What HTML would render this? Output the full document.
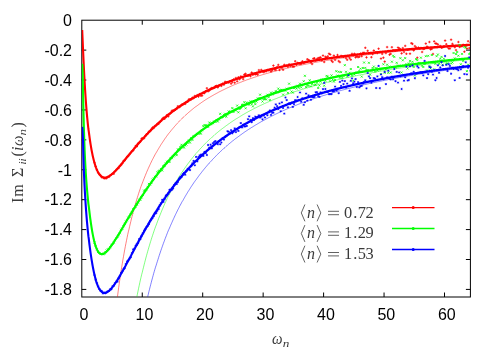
<!DOCTYPE html>
<html><head><meta charset="utf-8"><title>plot</title>
<style>html,body{margin:0;padding:0;background:#fff}svg{display:block;will-change:transform}</style></head>
<body><svg width="502" height="352" viewBox="0 0 502 352">
<rect width="502" height="352" fill="#fff"/>
<clipPath id="c"><rect x="81.8" y="20.2" width="388.2" height="276.5"/></clipPath>
<rect x="81.8" y="20.2" width="388.6" height="276.8" fill="none" stroke="#000" stroke-width="1"/>
<path d="M142.25 297.0v-4.5M142.25 20.2v4.5M202.70 297.0v-4.5M202.70 20.2v4.5M263.15 297.0v-4.5M263.15 20.2v4.5M323.60 297.0v-4.5M323.60 20.2v4.5M384.05 297.0v-4.5M384.05 20.2v4.5M444.50 297.0v-4.5M444.50 20.2v4.5M81.8 50.11h4.5M470.4 50.11h-4.5M81.8 80.02h4.5M470.4 80.02h-4.5M81.8 109.94h4.5M470.4 109.94h-4.5M81.8 139.85h4.5M470.4 139.85h-4.5M81.8 169.76h4.5M470.4 169.76h-4.5M81.8 199.67h4.5M470.4 199.67h-4.5M81.8 229.58h4.5M470.4 229.58h-4.5M81.8 259.50h4.5M470.4 259.50h-4.5M81.8 289.41h4.5M470.4 289.41h-4.5" stroke="#000" stroke-width="1" fill="none"/>
<g clip-path="url(#c)">
<path d="M93.3 162.7h2.4M94.5 161.5v2.4M94.5 166.6h2.4M95.7 165.4v2.4M95.7 169.8h2.4M96.9 168.6v2.4M96.9 172.7h2.4M98.1 171.5v2.4M98.1 174.2h2.4M99.3 173.0v2.4M99.3 175.3h2.4M100.5 174.1v2.4M100.5 177.3h2.4M101.7 176.1v2.4M101.8 177.5h2.4M103.0 176.3v2.4M103.0 178.5h2.4M104.2 177.3v2.4M104.2 178.2h2.4M105.4 177.0v2.4M105.4 178.3h2.4M106.6 177.1v2.4M106.6 177.0h2.4M107.8 175.8v2.4M107.8 176.9h2.4M109.0 175.7v2.4M109.0 175.3h2.4M110.2 174.1v2.4M110.2 174.5h2.4M111.4 173.3v2.4M111.4 173.6h2.4M112.6 172.4v2.4M112.6 173.8h2.4M113.8 172.6v2.4M113.8 171.5h2.4M115.0 170.3v2.4M115.1 170.0h2.4M116.3 168.8v2.4M116.3 168.6h2.4M117.5 167.4v2.4M117.5 168.1h2.4M118.7 166.9v2.4M118.7 166.1h2.4M119.9 164.9v2.4M119.9 165.0h2.4M121.1 163.8v2.4M121.1 163.5h2.4M122.3 162.3v2.4M122.3 160.9h2.4M123.5 159.7v2.4M123.5 160.5h2.4M124.7 159.3v2.4M124.7 158.6h2.4M125.9 157.4v2.4M125.9 156.6h2.4M127.1 155.4v2.4M127.1 156.0h2.4M128.3 154.8v2.4M128.4 154.2h2.4M129.6 153.0v2.4M129.6 152.6h2.4M130.8 151.4v2.4M130.8 151.2h2.4M132.0 150.0v2.4M132.0 150.5h2.4M133.2 149.3v2.4M133.2 148.3h2.4M134.4 147.1v2.4M134.4 146.0h2.4M135.6 144.8v2.4M135.6 146.5h2.4M136.8 145.3v2.4M136.8 143.5h2.4M138.0 142.3v2.4M138.0 142.6h2.4M139.2 141.4v2.4M139.2 141.7h2.4M140.4 140.5v2.4M140.4 138.6h2.4M141.6 137.4v2.4M141.7 138.1h2.4M142.9 136.9v2.4M142.9 138.2h2.4M144.1 137.0v2.4M144.1 136.0h2.4M145.3 134.8v2.4M145.3 134.3h2.4M146.5 133.1v2.4M146.5 133.6h2.4M147.7 132.4v2.4M147.7 131.7h2.4M148.9 130.5v2.4M148.9 131.0h2.4M150.1 129.8v2.4M150.1 129.3h2.4M151.3 128.1v2.4M151.3 127.5h2.4M152.5 126.3v2.4M152.5 128.0h2.4M153.7 126.8v2.4M153.7 126.1h2.4M154.9 124.9v2.4M155.0 125.5h2.4M156.2 124.3v2.4M156.2 123.9h2.4M157.4 122.7v2.4M157.4 123.9h2.4M158.6 122.7v2.4M158.6 122.3h2.4M159.8 121.1v2.4M159.8 121.0h2.4M161.0 119.8v2.4M161.0 119.0h2.4M162.2 117.8v2.4M162.2 117.7h2.4M163.4 116.5v2.4M163.4 118.8h2.4M164.6 117.6v2.4M164.6 117.4h2.4M165.8 116.2v2.4M165.8 115.2h2.4M167.0 114.0v2.4M167.0 116.5h2.4M168.2 115.3v2.4M168.3 114.2h2.4M169.5 113.0v2.4M169.5 113.0h2.4M170.7 111.8v2.4M170.7 110.8h2.4M171.9 109.6v2.4M171.9 110.4h2.4M173.1 109.2v2.4M173.1 110.5h2.4M174.3 109.3v2.4M174.3 109.7h2.4M175.5 108.5v2.4M175.5 108.7h2.4M176.7 107.5v2.4M176.7 106.2h2.4M177.9 105.0v2.4M177.9 107.2h2.4M179.1 106.0v2.4M179.1 106.3h2.4M180.3 105.1v2.4M180.3 104.8h2.4M181.5 103.6v2.4M181.6 104.5h2.4M182.8 103.3v2.4M182.8 103.8h2.4M184.0 102.6v2.4M184.0 103.9h2.4M185.2 102.7v2.4M185.2 102.1h2.4M186.4 100.9v2.4M186.4 101.8h2.4M187.6 100.6v2.4M187.6 99.4h2.4M188.8 98.2v2.4M188.8 99.2h2.4M190.0 98.0v2.4M190.0 99.2h2.4M191.2 98.0v2.4M191.2 97.7h2.4M192.4 96.5v2.4M192.4 98.1h2.4M193.6 96.9v2.4M193.6 96.0h2.4M194.8 94.8v2.4M194.9 96.4h2.4M196.1 95.2v2.4M196.1 95.1h2.4M197.3 93.9v2.4M197.3 96.6h2.4M198.5 95.4v2.4M198.5 94.1h2.4M199.7 92.9v2.4M199.7 95.8h2.4M200.9 94.6v2.4M200.9 95.6h2.4M202.1 94.4v2.4M202.1 93.0h2.4M203.3 91.8v2.4M203.3 93.1h2.4M204.5 91.9v2.4M204.5 91.3h2.4M205.7 90.1v2.4M205.7 88.2h2.4M206.9 87.0v2.4M206.9 91.3h2.4M208.1 90.1v2.4M208.1 90.5h2.4M209.3 89.3v2.4M209.4 88.9h2.4M210.6 87.7v2.4M210.6 88.0h2.4M211.8 86.8v2.4M211.8 88.3h2.4M213.0 87.1v2.4M213.0 87.8h2.4M214.2 86.6v2.4M214.2 86.2h2.4M215.4 85.0v2.4M215.4 85.9h2.4M216.6 84.7v2.4M216.6 87.4h2.4M217.8 86.2v2.4M217.8 85.6h2.4M219.0 84.4v2.4M219.0 85.0h2.4M220.2 83.8v2.4M220.2 85.9h2.4M221.4 84.7v2.4M221.4 83.7h2.4M222.6 82.5v2.4M222.7 84.7h2.4M223.9 83.5v2.4M223.9 81.8h2.4M225.1 80.6v2.4M225.1 82.4h2.4M226.3 81.2v2.4M226.3 82.1h2.4M227.5 80.9v2.4M227.5 82.6h2.4M228.7 81.4v2.4M228.7 81.5h2.4M229.9 80.3v2.4M229.9 83.7h2.4M231.1 82.5v2.4M231.1 82.1h2.4M232.3 80.9v2.4M232.3 79.5h2.4M233.5 78.3v2.4M233.5 82.7h2.4M234.7 81.5v2.4M234.7 78.0h2.4M235.9 76.8v2.4M236.0 81.3h2.4M237.2 80.1v2.4M237.2 77.3h2.4M238.4 76.1v2.4M238.4 79.2h2.4M239.6 78.0v2.4M239.6 76.4h2.4M240.8 75.2v2.4M240.8 77.0h2.4M242.0 75.8v2.4M242.0 79.1h2.4M243.2 77.9v2.4M243.2 74.5h2.4M244.4 73.3v2.4M244.4 73.8h2.4M245.6 72.6v2.4M245.6 75.8h2.4M246.8 74.6v2.4M246.8 75.8h2.4M248.0 74.6v2.4M248.0 75.2h2.4M249.2 74.0v2.4M249.3 76.2h2.4M250.5 75.0v2.4M250.5 72.5h2.4M251.7 71.3v2.4M251.7 74.8h2.4M252.9 73.6v2.4M252.9 73.6h2.4M254.1 72.4v2.4M254.1 74.5h2.4M255.3 73.3v2.4M255.3 73.9h2.4M256.5 72.7v2.4M256.5 74.7h2.4M257.7 73.5v2.4M257.7 70.1h2.4M258.9 68.9v2.4M258.9 72.2h2.4M260.1 71.0v2.4M260.1 69.9h2.4M261.3 68.7v2.4M261.3 71.3h2.4M262.5 70.1v2.4M262.6 72.2h2.4M263.8 71.0v2.4M263.8 71.2h2.4M265.0 70.0v2.4M265.0 71.3h2.4M266.2 70.1v2.4M266.2 70.0h2.4M267.4 68.8v2.4M267.4 70.4h2.4M268.6 69.2v2.4M268.6 70.0h2.4M269.8 68.8v2.4M269.8 71.6h2.4M271.0 70.4v2.4M271.0 70.3h2.4M272.2 69.1v2.4M272.2 65.6h2.4M273.4 64.4v2.4M273.4 69.5h2.4M274.6 68.3v2.4M274.6 70.0h2.4M275.8 68.8v2.4M275.9 67.1h2.4M277.1 65.9v2.4M277.1 64.9h2.4M278.3 63.7v2.4M278.3 70.0h2.4M279.5 68.8v2.4M279.5 67.4h2.4M280.7 66.2v2.4M280.7 67.9h2.4M281.9 66.7v2.4M281.9 69.8h2.4M283.1 68.6v2.4M283.1 64.8h2.4M284.3 63.6v2.4M284.3 66.0h2.4M285.5 64.8v2.4M285.5 65.5h2.4M286.7 64.3v2.4M286.7 66.9h2.4M287.9 65.7v2.4M287.9 64.3h2.4M289.1 63.1v2.4M289.2 66.0h2.4M290.4 64.8v2.4M290.4 65.0h2.4M291.6 63.8v2.4M291.6 66.7h2.4M292.8 65.5v2.4M292.8 66.7h2.4M294.0 65.5v2.4M294.0 61.2h2.4M295.2 60.0v2.4M295.2 64.8h2.4M296.4 63.6v2.4M296.4 62.9h2.4M297.6 61.7v2.4M297.6 63.4h2.4M298.8 62.2v2.4M298.8 64.0h2.4M300.0 62.8v2.4M300.0 63.9h2.4M301.2 62.7v2.4M301.2 61.3h2.4M302.4 60.1v2.4M302.5 63.0h2.4M303.7 61.8v2.4M303.7 62.5h2.4M304.9 61.3v2.4M304.9 61.9h2.4M306.1 60.7v2.4M306.1 59.2h2.4M307.3 58.0v2.4M307.3 60.1h2.4M308.5 58.9v2.4M308.5 60.5h2.4M309.7 59.3v2.4M309.7 62.4h2.4M310.9 61.2v2.4M310.9 64.0h2.4M312.1 62.8v2.4M312.1 58.6h2.4M313.3 57.4v2.4M313.3 58.3h2.4M314.5 57.1v2.4M314.5 60.7h2.4M315.7 59.5v2.4M315.8 58.9h2.4M317.0 57.7v2.4M317.0 58.1h2.4M318.2 56.9v2.4M318.2 57.8h2.4M319.4 56.6v2.4M319.4 57.4h2.4M320.6 56.2v2.4M320.6 60.4h2.4M321.8 59.2v2.4M321.8 55.6h2.4M323.0 54.4v2.4M323.0 62.0h2.4M324.2 60.8v2.4M324.2 56.8h2.4M325.4 55.6v2.4M325.4 57.5h2.4M326.6 56.3v2.4M326.6 56.3h2.4M327.8 55.1v2.4M327.8 53.7h2.4M329.0 52.5v2.4M329.0 54.5h2.4M330.2 53.3v2.4M330.3 60.7h2.4M331.5 59.5v2.4M331.5 61.9h2.4M332.7 60.7v2.4M332.7 55.6h2.4M333.9 54.4v2.4M333.9 59.9h2.4M335.1 58.7v2.4M335.1 57.3h2.4M336.3 56.1v2.4M336.3 55.0h2.4M337.5 53.8v2.4M337.5 61.1h2.4M338.7 59.9v2.4M338.7 62.1h2.4M339.9 60.9v2.4M339.9 55.9h2.4M341.1 54.7v2.4M341.1 56.3h2.4M342.3 55.1v2.4M342.3 56.9h2.4M343.5 55.7v2.4M343.6 56.0h2.4M344.8 54.8v2.4M344.8 58.2h2.4M346.0 57.0v2.4M346.0 59.8h2.4M347.2 58.6v2.4M347.2 56.1h2.4M348.4 54.9v2.4M348.4 58.1h2.4M349.6 56.9v2.4M349.6 59.7h2.4M350.8 58.5v2.4M350.8 53.8h2.4M352.0 52.6v2.4M352.0 55.2h2.4M353.2 54.0v2.4M353.2 53.8h2.4M354.4 52.6v2.4M354.4 57.4h2.4M355.6 56.2v2.4M355.6 56.4h2.4M356.8 55.2v2.4M356.9 57.2h2.4M358.1 56.0v2.4M358.1 56.8h2.4M359.3 55.6v2.4M359.3 53.6h2.4M360.5 52.4v2.4M360.5 56.2h2.4M361.7 55.0v2.4M361.7 52.9h2.4M362.9 51.7v2.4M362.9 52.8h2.4M364.1 51.6v2.4M364.1 47.8h2.4M365.3 46.6v2.4M365.3 57.4h2.4M366.5 56.2v2.4M366.5 50.8h2.4M367.7 49.6v2.4M367.7 53.4h2.4M368.9 52.2v2.4M368.9 53.1h2.4M370.1 51.9v2.4M370.2 57.2h2.4M371.4 56.0v2.4M371.4 54.1h2.4M372.6 52.9v2.4M372.6 50.5h2.4M373.8 49.3v2.4M373.8 52.8h2.4M375.0 51.6v2.4M375.0 52.2h2.4M376.2 51.0v2.4M376.2 53.1h2.4M377.4 51.9v2.4M377.4 48.7h2.4M378.6 47.5v2.4M378.6 52.1h2.4M379.8 50.9v2.4M379.8 58.6h2.4M381.0 57.4v2.4M381.0 53.9h2.4M382.2 52.7v2.4M382.2 57.7h2.4M383.4 56.5v2.4M383.5 61.6h2.4M384.7 60.4v2.4M384.7 53.1h2.4M385.9 51.9v2.4M385.9 47.1h2.4M387.1 45.9v2.4M387.1 51.0h2.4M388.3 49.8v2.4M388.3 54.7h2.4M389.5 53.5v2.4M389.5 53.9h2.4M390.7 52.7v2.4M390.7 47.2h2.4M391.9 46.0v2.4M391.9 50.2h2.4M393.1 49.0v2.4M393.1 50.4h2.4M394.3 49.2v2.4M394.3 50.6h2.4M395.5 49.4v2.4M395.5 50.2h2.4M396.7 49.0v2.4M396.8 47.6h2.4M398.0 46.4v2.4M398.0 48.3h2.4M399.2 47.1v2.4M399.2 49.3h2.4M400.4 48.1v2.4M400.4 53.4h2.4M401.6 52.2v2.4M401.6 48.1h2.4M402.8 46.9v2.4M402.8 52.0h2.4M404.0 50.8v2.4M404.0 45.9h2.4M405.2 44.7v2.4M405.2 53.8h2.4M406.4 52.6v2.4M406.4 49.8h2.4M407.6 48.6v2.4M407.6 49.3h2.4M408.8 48.1v2.4M408.8 53.7h2.4M410.0 52.5v2.4M410.1 43.2h2.4M411.3 42.0v2.4M411.3 43.9h2.4M412.5 42.7v2.4M412.5 50.5h2.4M413.7 49.3v2.4M413.7 46.1h2.4M414.9 44.9v2.4M414.9 47.3h2.4M416.1 46.1v2.4M416.1 57.7h2.4M417.3 56.5v2.4M417.3 47.6h2.4M418.5 46.4v2.4M418.5 48.6h2.4M419.7 47.4v2.4M419.7 48.0h2.4M420.9 46.8v2.4M420.9 52.0h2.4M422.1 50.8v2.4M422.1 49.0h2.4M423.3 47.8v2.4M423.4 48.6h2.4M424.6 47.4v2.4M424.6 43.6h2.4M425.8 42.4v2.4M425.8 46.6h2.4M427.0 45.4v2.4M427.0 47.7h2.4M428.2 46.5v2.4M428.2 42.0h2.4M429.4 40.8v2.4M429.4 49.5h2.4M430.6 48.3v2.4M430.6 48.9h2.4M431.8 47.7v2.4M431.8 54.0h2.4M433.0 52.8v2.4M433.0 41.4h2.4M434.2 40.2v2.4M434.2 43.5h2.4M435.4 42.3v2.4M435.4 43.6h2.4M436.6 42.4v2.4M436.7 44.4h2.4M437.9 43.2v2.4M437.9 46.5h2.4M439.1 45.3v2.4M439.1 46.0h2.4M440.3 44.8v2.4M440.3 47.7h2.4M441.5 46.5v2.4M441.5 47.4h2.4M442.7 46.2v2.4M442.7 46.3h2.4M443.9 45.1v2.4M443.9 40.6h2.4M445.1 39.4v2.4M445.1 44.2h2.4M446.3 43.0v2.4M446.3 46.5h2.4M447.5 45.3v2.4M447.5 48.5h2.4M448.7 47.3v2.4M448.7 48.6h2.4M449.9 47.4v2.4M449.9 39.7h2.4M451.1 38.5v2.4M451.2 43.9h2.4M452.4 42.7v2.4M452.4 45.6h2.4M453.6 44.4v2.4M453.6 47.2h2.4M454.8 46.0v2.4M454.8 50.1h2.4M456.0 48.9v2.4M456.0 45.9h2.4M457.2 44.7v2.4M457.2 42.0h2.4M458.4 40.8v2.4M458.4 47.0h2.4M459.6 45.8v2.4M459.6 46.3h2.4M460.8 45.1v2.4M460.8 46.2h2.4M462.0 45.0v2.4M462.0 44.8h2.4M463.2 43.6v2.4M463.2 51.7h2.4M464.4 50.5v2.4M464.5 46.0h2.4M465.7 44.8v2.4M465.7 48.5h2.4M466.9 47.3v2.4M466.9 41.2h2.4M468.1 40.0v2.4M468.1 48.1h2.4M469.3 46.9v2.4M469.3 42.3h2.4M470.5 41.1v2.4" stroke="#ff0000" stroke-width="0.8" fill="none"/>
<polyline points="82.2,30.0 82.4,34.7 82.7,41.8 83.0,48.7 83.3,55.4 83.6,61.9 83.9,68.1 84.2,74.0 84.5,79.6 84.8,84.9 85.1,89.9 85.4,94.6 85.7,99.0 86.0,103.2 86.3,107.1 86.6,110.8 86.9,114.3 87.2,117.6 87.5,120.7 87.8,123.6 88.1,126.4 88.4,129.0 88.8,131.6 89.1,134.0 89.4,136.2 89.7,138.4 90.0,140.5 90.3,142.5 90.6,144.4 90.9,146.2 91.2,148.0 91.5,149.7 91.8,151.3 92.1,152.8 92.4,154.3 92.7,155.7 93.0,157.0 93.3,158.3 93.6,159.5 93.9,160.7 94.2,161.8 94.5,162.9 94.8,163.9 95.1,164.9 95.4,165.8 95.7,166.7 96.0,167.6 96.3,168.4 96.6,169.1 96.9,169.8 97.2,170.5 97.5,171.1 97.8,171.7 98.1,172.3 98.4,172.8 98.7,173.3 99.0,173.8 99.3,174.2 99.6,174.6 99.9,175.0 100.2,175.3 100.5,175.7 100.8,175.9 101.1,176.2 101.4,176.4 101.7,176.6 102.1,176.8 102.4,177.0 102.7,177.1 103.0,177.3 103.3,177.4 103.6,177.5 103.9,177.5 104.2,177.6 104.5,177.6 104.8,177.6 105.1,177.6 105.4,177.6 105.7,177.5 106.0,177.5 106.3,177.4 106.6,177.3 106.9,177.2 107.2,177.1 107.5,177.0 107.8,176.9 108.1,176.7 108.4,176.6 108.7,176.4 109.0,176.3 109.3,176.1 109.6,175.9 109.9,175.7 110.2,175.5 110.5,175.3 110.8,175.0 111.1,174.8 111.4,174.6 111.7,174.3 112.0,174.1 112.3,173.8 112.6,173.5 112.9,173.3 113.2,173.0 113.5,172.7 113.8,172.4 114.1,172.1 114.4,171.8 114.7,171.5 115.0,171.2 115.3,170.9 115.7,170.6 116.0,170.3 116.3,169.9 116.6,169.6 116.9,169.3 117.2,169.0 117.5,168.6 117.8,168.3 118.1,168.0 118.4,167.6 118.7,167.3 119.0,166.9 119.3,166.6 119.6,166.2 119.9,165.9 120.2,165.5 120.5,165.2 120.8,164.8 121.1,164.4 121.4,164.1 121.7,163.7 122.0,163.4 122.3,163.0 122.6,162.6 122.9,162.3 123.2,161.9 123.5,161.5 123.8,161.2 124.1,160.8 124.4,160.4 124.7,160.1 125.0,159.7 125.3,159.3 125.6,158.9 125.9,158.6 126.2,158.2 126.5,157.8 126.8,157.5 127.1,157.1 127.4,156.7 127.7,156.4 128.0,156.0 128.3,155.6 128.6,155.2 129.0,154.9 129.3,154.5 129.6,154.1 129.9,153.8 130.2,153.4 130.5,153.0 130.8,152.7 131.1,152.3 131.4,151.9 131.7,151.6 132.0,151.2 132.3,150.8 132.6,150.5 132.9,150.1 133.2,149.7 133.5,149.4 133.8,149.0 134.1,148.7 134.4,148.3 134.7,147.9 135.0,147.6 135.3,147.2 135.6,146.9 135.9,146.5 136.2,146.2 136.5,145.8 136.8,145.5 137.1,145.1" stroke="#ff0000" stroke-width="2.1" fill="none" stroke-linejoin="round"/>
<polyline points="136.2,146.2 136.5,145.8 136.8,145.5 137.1,145.1 137.4,144.8 137.7,144.4 138.0,144.1 138.3,143.7 138.6,143.4 138.9,143.0 139.2,142.7 139.5,142.3 139.8,142.0 140.1,141.6 140.4,141.3 140.7,141.0 141.0,140.6 141.3,140.3 141.6,140.0 141.9,139.6 142.2,139.3 142.6,139.0 142.9,138.6 143.2,138.3 143.5,138.0 143.8,137.6 144.1,137.3 144.4,137.0 144.7,136.7 145.0,136.3 145.3,136.0 145.6,135.7 145.9,135.4 146.2,135.0 146.5,134.7 146.8,134.4 147.1,134.1 147.4,133.8 147.7,133.5 148.0,133.1 148.3,132.8 148.6,132.5 148.9,132.2 149.2,131.9 149.5,131.6 149.8,131.3 150.1,131.0 150.4,130.7 150.7,130.4 151.0,130.1 151.3,129.8 151.6,129.5 151.9,129.2 152.2,128.9 152.5,128.6 152.8,128.3 153.1,128.0 153.4,127.7 153.7,127.4 154.0,127.1 154.3,126.9 154.6,126.6 154.9,126.3 155.2,126.0 155.5,125.7 155.9,125.4 156.2,125.1 156.5,124.9 156.8,124.6 157.1,124.3 157.4,124.0 157.7,123.8 158.0,123.5 158.3,123.2 158.6,122.9 158.9,122.7 159.2,122.4 159.5,122.1 159.8,121.9 160.1,121.6 160.4,121.3 160.7,121.1 161.0,120.8 161.3,120.5 161.6,120.3 161.9,120.0 162.2,119.7 162.5,119.5 162.8,119.2 163.1,119.0 163.4,118.7 163.7,118.5 164.0,118.2 164.3,118.0 164.6,117.7 164.9,117.5 165.2,117.2 165.5,117.0 165.8,116.7 166.1,116.5 166.4,116.2 166.7,116.0 167.0,115.7 167.3,115.5" stroke="#ff0000" stroke-width="2.2" fill="none" stroke-linejoin="round"/>
<polyline points="166.4,116.2 166.7,116.0 167.0,115.7 167.3,115.5 167.6,115.2 167.9,115.0 168.2,114.8 168.5,114.5 168.8,114.3 169.2,114.1 169.5,113.8 169.8,113.6 170.1,113.4 170.4,113.1 170.7,112.9 171.0,112.7 171.3,112.4 171.6,112.2 171.9,112.0 172.2,111.7 172.5,111.5 172.8,111.3 173.1,111.1 173.4,110.8 173.7,110.6 174.0,110.4 174.3,110.2 174.6,110.0 174.9,109.7 175.2,109.5 175.5,109.3 175.8,109.1 176.1,108.9 176.4,108.7 176.7,108.5 177.0,108.2 177.3,108.0 177.6,107.8 177.9,107.6 178.2,107.4 178.5,107.2 178.8,107.0 179.1,106.8 179.4,106.6 179.7,106.4 180.0,106.2 180.3,106.0 180.6,105.8 180.9,105.6 181.2,105.4 181.5,105.2 181.8,105.0 182.1,104.8 182.4,104.6 182.8,104.4 183.1,104.2 183.4,104.0 183.7,103.8 184.0,103.6 184.3,103.4 184.6,103.2 184.9,103.0 185.2,102.8 185.5,102.6 185.8,102.4 186.1,102.2 186.4,102.1 186.7,101.9 187.0,101.7 187.3,101.5 187.6,101.3 187.9,101.1 188.2,101.0 188.5,100.8 188.8,100.6 189.1,100.4 189.4,100.2 189.7,100.0 190.0,99.9 190.3,99.7 190.6,99.5 190.9,99.3 191.2,99.2 191.5,99.0 191.8,98.8 192.1,98.6 192.4,98.5 192.7,98.3 193.0,98.1 193.3,97.9 193.6,97.8 193.9,97.6 194.2,97.4 194.5,97.3 194.8,97.1 195.1,96.9 195.4,96.8 195.7,96.6 196.1,96.4 196.4,96.3 196.7,96.1 197.0,95.9 197.3,95.8 197.6,95.6 197.9,95.5 198.2,95.3 198.5,95.1 198.8,95.0 199.1,94.8 199.4,94.7 199.7,94.5 200.0,94.3 200.3,94.2 200.6,94.0 200.9,93.9 201.2,93.7 201.5,93.6 201.8,93.4 202.1,93.3 202.4,93.1 202.7,93.0 203.0,92.8 203.3,92.7 203.6,92.5 203.9,92.4 204.2,92.2 204.5,92.1 204.8,91.9 205.1,91.8 205.4,91.6 205.7,91.5 206.0,91.3 206.3,91.2 206.6,91.0 206.9,90.9 207.2,90.7 207.5,90.6 207.8,90.5 208.1,90.3 208.4,90.2 208.7,90.0 209.0,89.9 209.3,89.8 209.7,89.6 210.0,89.5 210.3,89.3 210.6,89.2 210.9,89.1 211.2,88.9 211.5,88.8 211.8,88.7 212.1,88.5 212.4,88.4 212.7,88.2 213.0,88.1 213.3,88.0 213.6,87.8 213.9,87.7 214.2,87.6 214.5,87.4 214.8,87.3 215.1,87.2 215.4,87.1 215.7,86.9 216.0,86.8 216.3,86.7 216.6,86.5 216.9,86.4 217.2,86.3 217.5,86.2 217.8,86.0 218.1,85.9 218.4,85.8 218.7,85.7 219.0,85.5 219.3,85.4 219.6,85.3 219.9,85.2 220.2,85.0 220.5,84.9 220.8,84.8 221.1,84.7 221.4,84.5 221.7,84.4 222.0,84.3 222.3,84.2 222.6,84.1 223.0,83.9 223.3,83.8 223.6,83.7 223.9,83.6 224.2,83.5 224.5,83.4 224.8,83.2 225.1,83.1 225.4,83.0 225.7,82.9 226.0,82.8 226.3,82.7 226.6,82.5 226.9,82.4 227.2,82.3 227.5,82.2 227.8,82.1 228.1,82.0 228.4,81.9 228.7,81.8 229.0,81.6 229.3,81.5 229.6,81.4 229.9,81.3 230.2,81.2 230.5,81.1 230.8,81.0 231.1,80.9 231.4,80.8 231.7,80.7 232.0,80.6 232.3,80.4 232.6,80.3 232.9,80.2 233.2,80.1 233.5,80.0 233.8,79.9 234.1,79.8 234.4,79.7 234.7,79.6 235.0,79.5 235.3,79.4 235.6,79.3 235.9,79.2 236.2,79.1 236.6,79.0 236.9,78.9 237.2,78.8 237.5,78.7 237.8,78.6 238.1,78.5 238.4,78.4 238.7,78.3 239.0,78.2 239.3,78.1 239.6,78.0 239.9,77.9 240.2,77.8 240.5,77.7 240.8,77.6 241.1,77.5 241.4,77.4 241.7,77.3 242.0,77.2 242.3,77.1 242.6,77.0 242.9,76.9 243.2,76.8 243.5,76.7 243.8,76.6 244.1,76.5 244.4,76.4 244.7,76.3 245.0,76.2 245.3,76.1 245.6,76.1 245.9,76.0 246.2,75.9 246.5,75.8 246.8,75.7 247.1,75.6 247.4,75.5 247.7,75.4 248.0,75.3 248.3,75.2 248.6,75.1 248.9,75.0 249.2,75.0 249.5,74.9 249.9,74.8 250.2,74.7 250.5,74.6 250.8,74.5 251.1,74.4 251.4,74.3 251.7,74.3 252.0,74.2 252.3,74.1 252.6,74.0 252.9,73.9 253.2,73.8 253.5,73.7 253.8,73.6 254.1,73.6 254.4,73.5 254.7,73.4 255.0,73.3 255.3,73.2 255.6,73.1 255.9,73.1 256.2,73.0 256.5,72.9 256.8,72.8 257.1,72.7 257.4,72.6 257.7,72.6 258.0,72.5 258.3,72.4 258.6,72.3 258.9,72.2 259.2,72.2 259.5,72.1 259.8,72.0 260.1,71.9 260.4,71.8 260.7,71.7 261.0,71.7 261.3,71.6 261.6,71.5 261.9,71.4 262.2,71.4 262.5,71.3 262.8,71.2 263.2,71.1 263.5,71.0 263.8,71.0 264.1,70.9 264.4,70.8 264.7,70.7 265.0,70.7 265.3,70.6 265.6,70.5 265.9,70.4 266.2,70.4 266.5,70.3 266.8,70.2 267.1,70.1 267.4,70.1 267.7,70.0 268.0,69.9 268.3,69.8 268.6,69.8 268.9,69.7 269.2,69.6 269.5,69.5 269.8,69.5 270.1,69.4 270.4,69.3 270.7,69.2 271.0,69.2 271.3,69.1 271.6,69.0 271.9,69.0 272.2,68.9 272.5,68.8 272.8,68.7 273.1,68.7 273.4,68.6 273.7,68.5 274.0,68.5 274.3,68.4 274.6,68.3 274.9,68.2 275.2,68.2 275.5,68.1 275.8,68.0 276.1,68.0 276.4,67.9 276.8,67.8 277.1,67.8 277.4,67.7 277.7,67.6 278.0,67.6 278.3,67.5 278.6,67.4 278.9,67.4 279.2,67.3 279.5,67.2 279.8,67.2 280.1,67.1 280.4,67.0 280.7,67.0 281.0,66.9 281.3,66.8 281.6,66.8 281.9,66.7 282.2,66.6 282.5,66.6 282.8,66.5 283.1,66.4 283.4,66.4 283.7,66.3 284.0,66.2 284.3,66.2 284.6,66.1 284.9,66.0 285.2,66.0 285.5,65.9 285.8,65.9 286.1,65.8 286.4,65.7 286.7,65.7 287.0,65.6 287.3,65.5 287.6,65.5 287.9,65.4 288.2,65.4 288.5,65.3 288.8,65.2 289.1,65.2 289.4,65.1 289.7,65.0 290.1,65.0 290.4,64.9 290.7,64.9 291.0,64.8 291.3,64.7 291.6,64.7 291.9,64.6 292.2,64.6 292.5,64.5 292.8,64.4 293.1,64.4 293.4,64.3 293.7,64.3 294.0,64.2 294.3,64.2 294.6,64.1 294.9,64.0 295.2,64.0 295.5,63.9 295.8,63.9 296.1,63.8 296.4,63.7 296.7,63.7 297.0,63.6 297.3,63.6 297.6,63.5 297.9,63.5 298.2,63.4 298.5,63.3 298.8,63.3 299.1,63.2 299.4,63.2 299.7,63.1 300.0,63.1 300.3,63.0 300.6,63.0 300.9,62.9 301.2,62.8 301.5,62.8 301.8,62.7 302.1,62.7 302.4,62.6 302.7,62.6 303.0,62.5 303.3,62.5 303.7,62.4 304.0,62.3 304.3,62.3 304.6,62.2 304.9,62.2 305.2,62.1 305.5,62.1 305.8,62.0 306.1,62.0 306.4,61.9 306.7,61.9 307.0,61.8 307.3,61.8 307.6,61.7 307.9,61.7 308.2,61.6 308.5,61.6 308.8,61.5 309.1,61.4 309.4,61.4 309.7,61.3 310.0,61.3 310.3,61.2 310.6,61.2 310.9,61.1 311.2,61.1 311.5,61.0 311.8,61.0 312.1,60.9 312.4,60.9 312.7,60.8 313.0,60.8 313.3,60.7 313.6,60.7 313.9,60.6 314.2,60.6 314.5,60.5 314.8,60.5 315.1,60.4 315.4,60.4 315.7,60.3 316.0,60.3 316.3,60.2 316.6,60.2 317.0,60.1 317.3,60.1 317.6,60.0 317.9,60.0 318.2,59.9 318.5,59.9 318.8,59.8 319.1,59.8 319.4,59.8 319.7,59.7 320.0,59.7 320.3,59.6 320.6,59.6 320.9,59.5 321.2,59.5 321.5,59.4 321.8,59.4 322.1,59.3 322.4,59.3 322.7,59.2 323.0,59.2 323.3,59.1 323.6,59.1 323.9,59.0 324.2,59.0 324.5,59.0 324.8,58.9 325.1,58.9 325.4,58.8 325.7,58.8 326.0,58.7 326.3,58.7 326.6,58.6 326.9,58.6 327.2,58.5 327.5,58.5 327.8,58.5 328.1,58.4 328.4,58.4 328.7,58.3 329.0,58.3 329.3,58.2 329.6,58.2 329.9,58.1 330.2,58.1 330.6,58.1 330.9,58.0 331.2,58.0 331.5,57.9 331.8,57.9 332.1,57.8 332.4,57.8 332.7,57.8 333.0,57.7 333.3,57.7 333.6,57.6 333.9,57.6 334.2,57.5 334.5,57.5 334.8,57.5 335.1,57.4 335.4,57.4 335.7,57.3 336.0,57.3 336.3,57.2 336.6,57.2 336.9,57.2 337.2,57.1 337.5,57.1 337.8,57.0 338.1,57.0 338.4,56.9 338.7,56.9 339.0,56.9 339.3,56.8 339.6,56.8 339.9,56.7 340.2,56.7 340.5,56.7 340.8,56.6 341.1,56.6 341.4,56.5 341.7,56.5 342.0,56.5 342.3,56.4 342.6,56.4 342.9,56.3 343.2,56.3 343.5,56.3 343.9,56.2 344.2,56.2 344.5,56.1 344.8,56.1 345.1,56.1 345.4,56.0 345.7,56.0 346.0,55.9 346.3,55.9 346.6,55.9 346.9,55.8 347.2,55.8 347.5,55.7 347.8,55.7 348.1,55.7 348.4,55.6 348.7,55.6 349.0,55.6 349.3,55.5 349.6,55.5 349.9,55.4 350.2,55.4 350.5,55.4 350.8,55.3 351.1,55.3 351.4,55.2 351.7,55.2 352.0,55.2 352.3,55.1 352.6,55.1 352.9,55.1 353.2,55.0 353.5,55.0 353.8,54.9 354.1,54.9 354.4,54.9 354.7,54.8 355.0,54.8 355.3,54.8 355.6,54.7 355.9,54.7 356.2,54.7 356.5,54.6 356.8,54.6 357.1,54.5 357.5,54.5 357.8,54.5 358.1,54.4 358.4,54.4 358.7,54.4 359.0,54.3 359.3,54.3 359.6,54.3 359.9,54.2 360.2,54.2 360.5,54.2 360.8,54.1 361.1,54.1 361.4,54.0 361.7,54.0 362.0,54.0 362.3,53.9 362.6,53.9 362.9,53.9 363.2,53.8 363.5,53.8 363.8,53.8 364.1,53.7 364.4,53.7 364.7,53.7 365.0,53.6 365.3,53.6 365.6,53.6 365.9,53.5 366.2,53.5 366.5,53.5 366.8,53.4 367.1,53.4 367.4,53.4 367.7,53.3 368.0,53.3 368.3,53.3 368.6,53.2 368.9,53.2 369.2,53.2 369.5,53.1 369.8,53.1 370.1,53.1 370.4,53.0 370.8,53.0 371.1,53.0 371.4,52.9 371.7,52.9 372.0,52.9 372.3,52.8 372.6,52.8 372.9,52.8 373.2,52.7 373.5,52.7 373.8,52.7 374.1,52.6 374.4,52.6 374.7,52.6 375.0,52.5 375.3,52.5 375.6,52.5 375.9,52.4 376.2,52.4 376.5,52.4 376.8,52.3 377.1,52.3 377.4,52.3 377.7,52.2 378.0,52.2 378.3,52.2 378.6,52.1 378.9,52.1 379.2,52.1 379.5,52.1 379.8,52.0 380.1,52.0 380.4,52.0 380.7,51.9 381.0,51.9 381.3,51.9 381.6,51.8 381.9,51.8 382.2,51.8 382.5,51.7 382.8,51.7 383.1,51.7 383.4,51.6 383.7,51.6 384.1,51.6 384.4,51.6 384.7,51.5 385.0,51.5 385.3,51.5 385.6,51.4 385.9,51.4 386.2,51.4 386.5,51.3 386.8,51.3 387.1,51.3 387.4,51.3 387.7,51.2 388.0,51.2 388.3,51.2 388.6,51.1 388.9,51.1 389.2,51.1 389.5,51.1 389.8,51.0 390.1,51.0 390.4,51.0 390.7,50.9 391.0,50.9 391.3,50.9 391.6,50.8 391.9,50.8 392.2,50.8 392.5,50.8 392.8,50.7 393.1,50.7 393.4,50.7 393.7,50.6 394.0,50.6 394.3,50.6 394.6,50.6 394.9,50.5 395.2,50.5 395.5,50.5 395.8,50.4 396.1,50.4 396.4,50.4 396.7,50.4 397.0,50.3 397.3,50.3 397.7,50.3 398.0,50.2 398.3,50.2 398.6,50.2 398.9,50.2 399.2,50.1 399.5,50.1 399.8,50.1 400.1,50.1 400.4,50.0 400.7,50.0 401.0,50.0 401.3,49.9 401.6,49.9 401.9,49.9 402.2,49.9 402.5,49.8 402.8,49.8 403.1,49.8 403.4,49.8 403.7,49.7 404.0,49.7 404.3,49.7 404.6,49.6 404.9,49.6 405.2,49.6 405.5,49.6 405.8,49.5 406.1,49.5 406.4,49.5 406.7,49.5 407.0,49.4 407.3,49.4 407.6,49.4 407.9,49.4 408.2,49.3 408.5,49.3 408.8,49.3 409.1,49.3 409.4,49.2 409.7,49.2 410.0,49.2 410.3,49.1 410.6,49.1 411.0,49.1 411.3,49.1 411.6,49.0 411.9,49.0 412.2,49.0 412.5,49.0 412.8,48.9 413.1,48.9 413.4,48.9 413.7,48.9 414.0,48.8 414.3,48.8 414.6,48.8 414.9,48.8 415.2,48.7 415.5,48.7 415.8,48.7 416.1,48.7 416.4,48.6 416.7,48.6 417.0,48.6 417.3,48.6 417.6,48.5 417.9,48.5 418.2,48.5 418.5,48.5 418.8,48.4 419.1,48.4 419.4,48.4 419.7,48.4 420.0,48.3 420.3,48.3 420.6,48.3 420.9,48.3 421.2,48.2 421.5,48.2 421.8,48.2 422.1,48.2 422.4,48.1 422.7,48.1 423.0,48.1 423.3,48.1 423.6,48.0 423.9,48.0 424.2,48.0 424.6,48.0 424.9,48.0 425.2,47.9 425.5,47.9 425.8,47.9 426.1,47.9 426.4,47.8 426.7,47.8 427.0,47.8 427.3,47.8 427.6,47.7 427.9,47.7 428.2,47.7 428.5,47.7 428.8,47.6 429.1,47.6 429.4,47.6 429.7,47.6 430.0,47.6 430.3,47.5 430.6,47.5 430.9,47.5 431.2,47.5 431.5,47.4 431.8,47.4 432.1,47.4 432.4,47.4 432.7,47.3 433.0,47.3 433.3,47.3 433.6,47.3 433.9,47.3 434.2,47.2 434.5,47.2 434.8,47.2 435.1,47.2 435.4,47.1 435.7,47.1 436.0,47.1 436.3,47.1 436.6,47.1 436.9,47.0 437.2,47.0 437.5,47.0 437.9,47.0 438.2,46.9 438.5,46.9 438.8,46.9 439.1,46.9 439.4,46.9 439.7,46.8 440.0,46.8 440.3,46.8 440.6,46.8 440.9,46.7 441.2,46.7 441.5,46.7 441.8,46.7 442.1,46.7 442.4,46.6 442.7,46.6 443.0,46.6 443.3,46.6 443.6,46.5 443.9,46.5 444.2,46.5 444.5,46.5 444.8,46.5 445.1,46.4 445.4,46.4 445.7,46.4 446.0,46.4 446.3,46.4 446.6,46.3 446.9,46.3 447.2,46.3 447.5,46.3 447.8,46.3 448.1,46.2 448.4,46.2 448.7,46.2 449.0,46.2 449.3,46.1 449.6,46.1 449.9,46.1 450.2,46.1 450.5,46.1 450.8,46.0 451.1,46.0 451.5,46.0 451.8,46.0 452.1,46.0 452.4,45.9 452.7,45.9 453.0,45.9 453.3,45.9 453.6,45.9 453.9,45.8 454.2,45.8 454.5,45.8 454.8,45.8 455.1,45.8 455.4,45.7 455.7,45.7 456.0,45.7 456.3,45.7 456.6,45.7 456.9,45.6 457.2,45.6 457.5,45.6 457.8,45.6 458.1,45.6 458.4,45.5 458.7,45.5 459.0,45.5 459.3,45.5 459.6,45.5 459.9,45.4 460.2,45.4 460.5,45.4 460.8,45.4 461.1,45.4 461.4,45.3 461.7,45.3 462.0,45.3 462.3,45.3 462.6,45.3 462.9,45.2 463.2,45.2 463.5,45.2 463.8,45.2 464.1,45.2 464.4,45.1 464.8,45.1 465.1,45.1 465.4,45.1 465.7,45.1 466.0,45.0 466.3,45.0 466.6,45.0 466.9,45.0 467.2,45.0 467.5,44.9 467.8,44.9 468.1,44.9 468.4,44.9 468.7,44.9 469.0,44.9 469.3,44.8 469.6,44.8 469.9,44.8 470.2,44.8 470.5,44.8" stroke="#ff0000" stroke-width="2.3" fill="none" stroke-linejoin="round"/>
<polyline points="99.9,563.6 100.5,546.1 101.1,529.6 101.7,514.2 102.4,499.7 103.0,486.0 103.6,473.0 104.2,460.8 104.8,449.2 105.4,438.2 106.0,427.8 106.6,417.8 107.2,408.3 107.8,399.3 108.4,390.7 109.0,382.5 109.6,374.6 110.2,367.1 110.8,359.8 111.4,352.9 112.0,346.2 112.6,339.8 113.2,333.7 113.8,327.8 114.4,322.1 115.0,316.6 115.7,311.3 116.3,306.2 116.9,301.3 117.5,296.5 118.1,291.9 118.7,287.4 119.3,283.1 119.9,279.0 120.5,274.9 121.1,271.0 121.7,267.2 122.3,263.5 122.9,259.9 123.5,256.5 124.1,253.1 124.7,249.8 125.3,246.6 125.9,243.5 126.5,240.5 127.1,237.6 127.7,234.7 128.3,231.9 129.0,229.2 129.6,226.6 130.2,224.0 130.8,221.5 131.4,219.0 132.0,216.6 132.6,214.3 133.2,212.0 133.8,209.8 134.4,207.6 135.0,205.5 135.6,203.4 136.2,201.3 136.8,199.3 137.4,197.4 138.0,195.5 138.6,193.6 139.2,191.8 139.8,190.0 140.4,188.3 141.0,186.5 141.6,184.9 142.3,183.2 142.9,181.6 143.5,180.0 144.1,178.5 144.7,177.0 145.3,175.5 145.9,174.0 146.5,172.6 147.1,171.1 147.7,169.8 148.3,168.4 148.9,167.1 149.5,165.8 150.1,164.5 150.7,163.2 151.3,162.0 151.9,160.7 152.5,159.5 153.1,158.4 153.7,157.2 154.3,156.1 154.9,154.9 155.5,153.8 156.2,152.7 156.8,151.7 157.4,150.6 158.0,149.6 158.6,148.6 159.2,147.6 159.8,146.6 160.4,145.6 161.0,144.6 161.6,143.7 162.2,142.8 162.8,141.9 163.4,141.0 164.0,140.1 164.6,139.2 165.2,138.3 165.8,137.5 166.4,136.6 167.0,135.8 167.6,135.0 168.2,134.2 168.8,133.4 169.5,132.6 170.1,131.9 170.7,131.1 171.3,130.3 171.9,129.6 172.5,128.9 173.1,128.2 173.7,127.5 174.3,126.7 174.9,126.1 175.5,125.4 176.1,124.7 176.7,124.0 177.3,123.4 177.9,122.7 178.5,122.1 179.1,121.5 179.7,120.8 180.3,120.2 180.9,119.6 181.5,119.0 182.1,118.4 182.8,117.8 183.4,117.2 184.0,116.7 184.6,116.1 185.2,115.5 185.8,115.0 186.4,114.4 187.0,113.9 187.6,113.4 188.2,112.8 188.8,112.3 189.4,111.8 190.0,111.3 190.6,110.8 191.2,110.3 191.8,109.8 192.4,109.3 193.0,108.8 193.6,108.3 194.2,107.8 194.8,107.4 195.4,106.9 196.1,106.5 196.7,106.0 197.3,105.6 197.9,105.1 198.5,104.7 199.1,104.2 199.7,103.8 200.3,103.4 200.9,103.0 201.5,102.5 202.1,102.1 202.7,101.7 203.3,101.3 203.9,100.9 204.5,100.5 205.1,100.1 205.7,99.7 206.3,99.3 206.9,99.0 207.5,98.6 208.1,98.2 208.7,97.8 209.3,97.5 210.0,97.1 210.6,96.7 211.2,96.4 211.8,96.0 212.4,95.7 213.0,95.3 213.6,95.0 214.2,94.6 214.8,94.3 215.4,94.0 216.0,93.6 216.6,93.3 217.2,93.0 217.8,92.7 218.4,92.3 219.0,92.0 219.6,91.7 220.2,91.4 220.8,91.1 221.4,90.8 222.0,90.5 222.6,90.2 223.3,89.9 223.9,89.6 224.5,89.3 225.1,89.0 225.7,88.7 226.3,88.4 226.9,88.1 227.5,87.8 228.1,87.6 228.7,87.3 229.3,87.0 229.9,86.7 230.5,86.5 231.1,86.2 231.7,85.9 232.3,85.7 232.9,85.4 233.5,85.1 234.1,84.9 234.7,84.6 235.3,84.4 235.9,84.1 236.6,83.9 237.2,83.6 237.8,83.4 238.4,83.1 239.0,82.9 239.6,82.7 240.2,82.4 240.8,82.2 241.4,82.0 242.0,81.7 242.6,81.5 243.2,81.3 243.8,81.0 244.4,80.8 245.0,80.6 245.6,80.4 246.2,80.1 246.8,79.9 247.4,79.7 248.0,79.5 248.6,79.3 249.2,79.1 249.9,78.8 250.5,78.6 251.1,78.4 251.7,78.2 252.3,78.0 252.9,77.8 253.5,77.6 254.1,77.4 254.7,77.2 255.3,77.0 255.9,76.8 256.5,76.6 257.1,76.4 257.7,76.2 258.3,76.0 258.9,75.8 259.5,75.6 260.1,75.5 260.7,75.3 261.3,75.1 261.9,74.9 262.5,74.7 263.2,74.5 263.8,74.4 264.4,74.2 265.0,74.0 265.6,73.8 266.2,73.6 266.8,73.5 267.4,73.3 268.0,73.1 268.6,73.0 269.2,72.8 269.8,72.6 270.4,72.5 271.0,72.3 271.6,72.1 272.2,72.0 272.8,71.8 273.4,71.6 274.0,71.5 274.6,71.3 275.2,71.1 275.8,71.0 276.4,70.8 277.1,70.7 277.7,70.5 278.3,70.4 278.9,70.2 279.5,70.1 280.1,69.9 280.7,69.8 281.3,69.6 281.9,69.5 282.5,69.3 283.1,69.2 283.7,69.0 284.3,68.9 284.9,68.7 285.5,68.6 286.1,68.4 286.7,68.3 287.3,68.1 287.9,68.0 288.5,67.9 289.1,67.7 289.7,67.6 290.4,67.5 291.0,67.3 291.6,67.2 292.2,67.0 292.8,66.9 293.4,66.8 294.0,66.6 294.6,66.5 295.2,66.4 295.8,66.3 296.4,66.1 297.0,66.0 297.6,65.9 298.2,65.7 298.8,65.6 299.4,65.5 300.0,65.4 300.6,65.2 301.2,65.1 301.8,65.0 302.4,64.9 303.0,64.7 303.7,64.6 304.3,64.5 304.9,64.4 305.5,64.3 306.1,64.1 306.7,64.0 307.3,63.9 307.9,63.8 308.5,63.7 309.1,63.6 309.7,63.4 310.3,63.3 310.9,63.2 311.5,63.1 312.1,63.0 312.7,62.9 313.3,62.8 313.9,62.7 314.5,62.5 315.1,62.4 315.7,62.3 316.3,62.2 317.0,62.1 317.6,62.0 318.2,61.9 318.8,61.8 319.4,61.7 320.0,61.6 320.6,61.5 321.2,61.4 321.8,61.3 322.4,61.2 323.0,61.1 323.6,61.0 324.2,60.9 324.8,60.8 325.4,60.7 326.0,60.6 326.6,60.5 327.2,60.4 327.8,60.3 328.4,60.2 329.0,60.1 329.6,60.0 330.2,59.9 330.9,59.8 331.5,59.7 332.1,59.6 332.7,59.5 333.3,59.4 333.9,59.3 334.5,59.2 335.1,59.1 335.7,59.0 336.3,58.9 336.9,58.8 337.5,58.7 338.1,58.6 338.7,58.6 339.3,58.5 339.9,58.4 340.5,58.3 341.1,58.2 341.7,58.1 342.3,58.0 342.9,57.9 343.5,57.8 344.2,57.8 344.8,57.7 345.4,57.6 346.0,57.5 346.6,57.4 347.2,57.3 347.8,57.3 348.4,57.2 349.0,57.1 349.6,57.0 350.2,56.9 350.8,56.8 351.4,56.8 352.0,56.7 352.6,56.6 353.2,56.5 353.8,56.4 354.4,56.3 355.0,56.3 355.6,56.2 356.2,56.1 356.8,56.0 357.5,56.0 358.1,55.9 358.7,55.8 359.3,55.7 359.9,55.6 360.5,55.6 361.1,55.5 361.7,55.4 362.3,55.3 362.9,55.3 363.5,55.2 364.1,55.1 364.7,55.0 365.3,55.0 365.9,54.9 366.5,54.8 367.1,54.7 367.7,54.7 368.3,54.6 368.9,54.5 369.5,54.4 370.1,54.4 370.8,54.3 371.4,54.2 372.0,54.2 372.6,54.1 373.2,54.0 373.8,54.0 374.4,53.9 375.0,53.8 375.6,53.7 376.2,53.7 376.8,53.6 377.4,53.5 378.0,53.5 378.6,53.4 379.2,53.3 379.8,53.3 380.4,53.2 381.0,53.1 381.6,53.1 382.2,53.0 382.8,52.9 383.4,52.9 384.1,52.8 384.7,52.7 385.3,52.7 385.9,52.6 386.5,52.5 387.1,52.5 387.7,52.4 388.3,52.4 388.9,52.3 389.5,52.2 390.1,52.2 390.7,52.1 391.3,52.0 391.9,52.0 392.5,51.9 393.1,51.9 393.7,51.8 394.3,51.7 394.9,51.7 395.5,51.6 396.1,51.6 396.7,51.5 397.3,51.4 398.0,51.4 398.6,51.3 399.2,51.3 399.8,51.2 400.4,51.1 401.0,51.1 401.6,51.0 402.2,51.0 402.8,50.9 403.4,50.8 404.0,50.8 404.6,50.7 405.2,50.7 405.8,50.6 406.4,50.6 407.0,50.5 407.6,50.4 408.2,50.4 408.8,50.3 409.4,50.3 410.0,50.2 410.6,50.2 411.3,50.1 411.9,50.1 412.5,50.0 413.1,49.9 413.7,49.9 414.3,49.8 414.9,49.8 415.5,49.7 416.1,49.7 416.7,49.6 417.3,49.6 417.9,49.5 418.5,49.5 419.1,49.4 419.7,49.4 420.3,49.3 420.9,49.3 421.5,49.2 422.1,49.2 422.7,49.1 423.3,49.1 423.9,49.0 424.6,49.0 425.2,48.9 425.8,48.9 426.4,48.8 427.0,48.7 427.6,48.7 428.2,48.7 428.8,48.6 429.4,48.6 430.0,48.5 430.6,48.5 431.2,48.4 431.8,48.4 432.4,48.3 433.0,48.3 433.6,48.2 434.2,48.2 434.8,48.1 435.4,48.1 436.0,48.0 436.6,48.0 437.2,47.9 437.9,47.9 438.5,47.8 439.1,47.8 439.7,47.7 440.3,47.7 440.9,47.6 441.5,47.6 442.1,47.6 442.7,47.5 443.3,47.5 443.9,47.4 444.5,47.4 445.1,47.3 445.7,47.3 446.3,47.2 446.9,47.2 447.5,47.1 448.1,47.1 448.7,47.1 449.3,47.0 449.9,47.0 450.5,46.9 451.1,46.9 451.8,46.8 452.4,46.8 453.0,46.8 453.6,46.7 454.2,46.7 454.8,46.6 455.4,46.6 456.0,46.5 456.6,46.5 457.2,46.5 457.8,46.4 458.4,46.4 459.0,46.3 459.6,46.3 460.2,46.2 460.8,46.2 461.4,46.2 462.0,46.1 462.6,46.1 463.2,46.0 463.8,46.0 464.4,46.0 465.1,45.9 465.7,45.9 466.3,45.8 466.9,45.8 467.5,45.8 468.1,45.7 468.7,45.7 469.3,45.6 469.9,45.6 470.5,45.6" stroke="#ff0000" stroke-width="0.5" fill="none"/>
<path d="M93.5 241.6l2 2M93.5 243.6l2 -2M94.7 245.0l2 2M94.7 247.0l2 -2M95.9 248.2l2 2M95.9 250.2l2 -2M97.1 251.0l2 2M97.1 253.0l2 -2M98.3 252.0l2 2M98.3 254.0l2 -2M99.5 253.0l2 2M99.5 255.0l2 -2M100.7 252.6l2 2M100.7 254.6l2 -2M102.0 253.3l2 2M102.0 255.3l2 -2M103.2 252.7l2 2M103.2 254.7l2 -2M104.4 251.0l2 2M104.4 253.0l2 -2M105.6 249.4l2 2M105.6 251.4l2 -2M106.8 248.2l2 2M106.8 250.2l2 -2M108.0 247.9l2 2M108.0 249.9l2 -2M109.2 246.2l2 2M109.2 248.2l2 -2M110.4 243.8l2 2M110.4 245.8l2 -2M111.6 243.0l2 2M111.6 245.0l2 -2M112.8 241.7l2 2M112.8 243.7l2 -2M114.0 239.1l2 2M114.0 241.1l2 -2M115.3 237.0l2 2M115.3 239.0l2 -2M116.5 235.8l2 2M116.5 237.8l2 -2M117.7 234.3l2 2M117.7 236.3l2 -2M118.9 232.2l2 2M118.9 234.2l2 -2M120.1 228.8l2 2M120.1 230.8l2 -2M121.3 227.7l2 2M121.3 229.7l2 -2M122.5 225.2l2 2M122.5 227.2l2 -2M123.7 222.9l2 2M123.7 224.9l2 -2M124.9 220.6l2 2M124.9 222.6l2 -2M126.1 219.2l2 2M126.1 221.2l2 -2M127.3 216.6l2 2M127.3 218.6l2 -2M128.6 215.6l2 2M128.6 217.6l2 -2M129.8 213.2l2 2M129.8 215.2l2 -2M131.0 211.7l2 2M131.0 213.7l2 -2M132.2 208.1l2 2M132.2 210.1l2 -2M133.4 207.0l2 2M133.4 209.0l2 -2M134.6 205.6l2 2M134.6 207.6l2 -2M135.8 203.4l2 2M135.8 205.4l2 -2M137.0 201.4l2 2M137.0 203.4l2 -2M138.2 198.7l2 2M138.2 200.7l2 -2M139.4 198.7l2 2M139.4 200.7l2 -2M140.6 196.4l2 2M140.6 198.4l2 -2M141.9 194.0l2 2M141.9 196.0l2 -2M143.1 189.6l2 2M143.1 191.6l2 -2M144.3 189.2l2 2M144.3 191.2l2 -2M145.5 188.4l2 2M145.5 190.4l2 -2M146.7 185.9l2 2M146.7 187.9l2 -2M147.9 182.9l2 2M147.9 184.9l2 -2M149.1 183.4l2 2M149.1 185.4l2 -2M150.3 181.8l2 2M150.3 183.8l2 -2M151.5 178.6l2 2M151.5 180.6l2 -2M152.7 177.7l2 2M152.7 179.7l2 -2M153.9 175.9l2 2M153.9 177.9l2 -2M155.2 175.5l2 2M155.2 177.5l2 -2M156.4 171.4l2 2M156.4 173.4l2 -2M157.6 170.0l2 2M157.6 172.0l2 -2M158.8 169.7l2 2M158.8 171.7l2 -2M160.0 168.1l2 2M160.0 170.1l2 -2M161.2 169.5l2 2M161.2 171.5l2 -2M162.4 165.2l2 2M162.4 167.2l2 -2M163.6 164.6l2 2M163.6 166.6l2 -2M164.8 162.5l2 2M164.8 164.5l2 -2M166.0 160.8l2 2M166.0 162.8l2 -2M167.2 160.6l2 2M167.2 162.6l2 -2M168.5 160.9l2 2M168.5 162.9l2 -2M169.7 157.1l2 2M169.7 159.1l2 -2M170.9 157.1l2 2M170.9 159.1l2 -2M172.1 155.4l2 2M172.1 157.4l2 -2M173.3 154.4l2 2M173.3 156.4l2 -2M174.5 152.9l2 2M174.5 154.9l2 -2M175.7 154.1l2 2M175.7 156.1l2 -2M176.9 148.4l2 2M176.9 150.4l2 -2M178.1 148.4l2 2M178.1 150.4l2 -2M179.3 146.1l2 2M179.3 148.1l2 -2M180.5 143.8l2 2M180.5 145.8l2 -2M181.8 145.3l2 2M181.8 147.3l2 -2M183.0 146.6l2 2M183.0 148.6l2 -2M184.2 144.3l2 2M184.2 146.3l2 -2M185.4 143.6l2 2M185.4 145.6l2 -2M186.6 141.6l2 2M186.6 143.6l2 -2M187.8 139.7l2 2M187.8 141.7l2 -2M189.0 141.6l2 2M189.0 143.6l2 -2M190.2 137.2l2 2M190.2 139.2l2 -2M191.4 138.9l2 2M191.4 140.9l2 -2M192.6 135.3l2 2M192.6 137.3l2 -2M193.8 134.9l2 2M193.8 136.9l2 -2M195.1 134.2l2 2M195.1 136.2l2 -2M196.3 132.9l2 2M196.3 134.9l2 -2M197.5 132.7l2 2M197.5 134.7l2 -2M198.7 131.9l2 2M198.7 133.9l2 -2M199.9 132.7l2 2M199.9 134.7l2 -2M201.1 129.2l2 2M201.1 131.2l2 -2M202.3 125.2l2 2M202.3 127.2l2 -2M203.5 124.1l2 2M203.5 126.1l2 -2M204.7 124.3l2 2M204.7 126.3l2 -2M205.9 124.5l2 2M205.9 126.5l2 -2M207.1 125.9l2 2M207.1 127.9l2 -2M208.3 121.5l2 2M208.3 123.5l2 -2M209.6 123.2l2 2M209.6 125.2l2 -2M210.8 122.5l2 2M210.8 124.5l2 -2M212.0 122.1l2 2M212.0 124.1l2 -2M213.2 120.6l2 2M213.2 122.6l2 -2M214.4 120.8l2 2M214.4 122.8l2 -2M215.6 119.4l2 2M215.6 121.4l2 -2M216.8 120.5l2 2M216.8 122.5l2 -2M218.0 118.4l2 2M218.0 120.4l2 -2M219.2 112.8l2 2M219.2 114.8l2 -2M220.4 116.4l2 2M220.4 118.4l2 -2M221.6 116.0l2 2M221.6 118.0l2 -2M222.9 113.9l2 2M222.9 115.9l2 -2M224.1 112.8l2 2M224.1 114.8l2 -2M225.3 115.7l2 2M225.3 117.7l2 -2M226.5 113.3l2 2M226.5 115.3l2 -2M227.7 110.4l2 2M227.7 112.4l2 -2M228.9 111.0l2 2M228.9 113.0l2 -2M230.1 110.6l2 2M230.1 112.6l2 -2M231.3 107.1l2 2M231.3 109.1l2 -2M232.5 111.0l2 2M232.5 113.0l2 -2M233.7 108.8l2 2M233.7 110.8l2 -2M234.9 109.5l2 2M234.9 111.5l2 -2M236.2 104.6l2 2M236.2 106.6l2 -2M237.4 111.3l2 2M237.4 113.3l2 -2M238.6 108.0l2 2M238.6 110.0l2 -2M239.8 107.1l2 2M239.8 109.1l2 -2M241.0 104.0l2 2M241.0 106.0l2 -2M242.2 103.5l2 2M242.2 105.5l2 -2M243.4 101.2l2 2M243.4 103.2l2 -2M244.6 107.3l2 2M244.6 109.3l2 -2M245.8 101.5l2 2M245.8 103.5l2 -2M247.0 103.3l2 2M247.0 105.3l2 -2M248.2 103.6l2 2M248.2 105.6l2 -2M249.5 100.3l2 2M249.5 102.3l2 -2M250.7 103.2l2 2M250.7 105.2l2 -2M251.9 105.4l2 2M251.9 107.4l2 -2M253.1 100.9l2 2M253.1 102.9l2 -2M254.3 103.1l2 2M254.3 105.1l2 -2M255.5 100.6l2 2M255.5 102.6l2 -2M256.7 97.6l2 2M256.7 99.6l2 -2M257.9 97.3l2 2M257.9 99.3l2 -2M259.1 93.7l2 2M259.1 95.7l2 -2M260.3 97.6l2 2M260.3 99.6l2 -2M261.5 100.5l2 2M261.5 102.5l2 -2M262.8 98.1l2 2M262.8 100.1l2 -2M264.0 98.1l2 2M264.0 100.1l2 -2M265.2 98.4l2 2M265.2 100.4l2 -2M266.4 93.7l2 2M266.4 95.7l2 -2M267.6 96.1l2 2M267.6 98.1l2 -2M268.8 99.1l2 2M268.8 101.1l2 -2M270.0 91.7l2 2M270.0 93.7l2 -2M271.2 93.4l2 2M271.2 95.4l2 -2M272.4 91.7l2 2M272.4 93.7l2 -2M273.6 91.9l2 2M273.6 93.9l2 -2M274.8 90.1l2 2M274.8 92.1l2 -2M276.1 91.3l2 2M276.1 93.3l2 -2M277.3 87.6l2 2M277.3 89.6l2 -2M278.5 89.4l2 2M278.5 91.4l2 -2M279.7 89.1l2 2M279.7 91.1l2 -2M280.9 88.7l2 2M280.9 90.7l2 -2M282.1 93.6l2 2M282.1 95.6l2 -2M283.3 89.5l2 2M283.3 91.5l2 -2M284.5 89.4l2 2M284.5 91.4l2 -2M285.7 87.7l2 2M285.7 89.7l2 -2M286.9 91.9l2 2M286.9 93.9l2 -2M288.1 82.7l2 2M288.1 84.7l2 -2M289.4 86.9l2 2M289.4 88.9l2 -2M290.6 90.5l2 2M290.6 92.5l2 -2M291.8 91.6l2 2M291.8 93.6l2 -2M293.0 87.0l2 2M293.0 89.0l2 -2M294.2 86.0l2 2M294.2 88.0l2 -2M295.4 87.6l2 2M295.4 89.6l2 -2M296.6 84.8l2 2M296.6 86.8l2 -2M297.8 86.7l2 2M297.8 88.7l2 -2M299.0 82.7l2 2M299.0 84.7l2 -2M300.2 86.4l2 2M300.2 88.4l2 -2M301.4 83.9l2 2M301.4 85.9l2 -2M302.7 80.3l2 2M302.7 82.3l2 -2M303.9 74.8l2 2M303.9 76.8l2 -2M305.1 86.1l2 2M305.1 88.1l2 -2M306.3 84.0l2 2M306.3 86.0l2 -2M307.5 84.9l2 2M307.5 86.9l2 -2M308.7 79.3l2 2M308.7 81.3l2 -2M309.9 85.4l2 2M309.9 87.4l2 -2M311.1 82.9l2 2M311.1 84.9l2 -2M312.3 81.0l2 2M312.3 83.0l2 -2M313.5 84.0l2 2M313.5 86.0l2 -2M314.7 83.6l2 2M314.7 85.6l2 -2M316.0 81.7l2 2M316.0 83.7l2 -2M317.2 87.0l2 2M317.2 89.0l2 -2M318.4 84.5l2 2M318.4 86.5l2 -2M319.6 80.6l2 2M319.6 82.6l2 -2M320.8 78.4l2 2M320.8 80.4l2 -2M322.0 79.3l2 2M322.0 81.3l2 -2M323.2 84.7l2 2M323.2 86.7l2 -2M324.4 79.8l2 2M324.4 81.8l2 -2M325.6 74.9l2 2M325.6 76.9l2 -2M326.8 75.5l2 2M326.8 77.5l2 -2M328.0 77.6l2 2M328.0 79.6l2 -2M329.2 80.3l2 2M329.2 82.3l2 -2M330.5 74.4l2 2M330.5 76.4l2 -2M331.7 78.7l2 2M331.7 80.7l2 -2M332.9 80.6l2 2M332.9 82.6l2 -2M334.1 79.0l2 2M334.1 81.0l2 -2M335.3 70.2l2 2M335.3 72.2l2 -2M336.5 74.6l2 2M336.5 76.6l2 -2M337.7 70.8l2 2M337.7 72.8l2 -2M338.9 76.8l2 2M338.9 78.8l2 -2M340.1 71.1l2 2M340.1 73.1l2 -2M341.3 76.9l2 2M341.3 78.9l2 -2M342.5 74.9l2 2M342.5 76.9l2 -2M343.8 64.2l2 2M343.8 66.2l2 -2M345.0 70.8l2 2M345.0 72.8l2 -2M346.2 75.6l2 2M346.2 77.6l2 -2M347.4 73.7l2 2M347.4 75.7l2 -2M348.6 71.8l2 2M348.6 73.8l2 -2M349.8 68.0l2 2M349.8 70.0l2 -2M351.0 74.7l2 2M351.0 76.7l2 -2M352.2 79.6l2 2M352.2 81.6l2 -2M353.4 73.4l2 2M353.4 75.4l2 -2M354.6 71.9l2 2M354.6 73.9l2 -2M355.8 71.3l2 2M355.8 73.3l2 -2M357.1 66.0l2 2M357.1 68.0l2 -2M358.3 70.0l2 2M358.3 72.0l2 -2M359.5 67.7l2 2M359.5 69.7l2 -2M360.7 75.6l2 2M360.7 77.6l2 -2M361.9 67.0l2 2M361.9 69.0l2 -2M363.1 61.5l2 2M363.1 63.5l2 -2M364.3 66.9l2 2M364.3 68.9l2 -2M365.5 69.0l2 2M365.5 71.0l2 -2M366.7 69.2l2 2M366.7 71.2l2 -2M367.9 61.8l2 2M367.9 63.8l2 -2M369.1 73.6l2 2M369.1 75.6l2 -2M370.4 69.8l2 2M370.4 71.8l2 -2M371.6 67.0l2 2M371.6 69.0l2 -2M372.8 65.6l2 2M372.8 67.6l2 -2M374.0 70.7l2 2M374.0 72.7l2 -2M375.2 67.1l2 2M375.2 69.1l2 -2M376.4 69.6l2 2M376.4 71.6l2 -2M377.6 67.6l2 2M377.6 69.6l2 -2M378.8 68.6l2 2M378.8 70.6l2 -2M380.0 73.1l2 2M380.0 75.1l2 -2M381.2 67.7l2 2M381.2 69.7l2 -2M382.4 63.3l2 2M382.4 65.3l2 -2M383.7 71.8l2 2M383.7 73.8l2 -2M384.9 68.2l2 2M384.9 70.2l2 -2M386.1 63.7l2 2M386.1 65.7l2 -2M387.3 71.8l2 2M387.3 73.8l2 -2M388.5 65.6l2 2M388.5 67.6l2 -2M389.7 71.5l2 2M389.7 73.5l2 -2M390.9 60.7l2 2M390.9 62.7l2 -2M392.1 54.7l2 2M392.1 56.7l2 -2M393.3 55.9l2 2M393.3 57.9l2 -2M394.5 66.7l2 2M394.5 68.7l2 -2M395.7 61.8l2 2M395.7 63.8l2 -2M397.0 64.7l2 2M397.0 66.7l2 -2M398.2 64.7l2 2M398.2 66.7l2 -2M399.4 57.2l2 2M399.4 59.2l2 -2M400.6 71.5l2 2M400.6 73.5l2 -2M401.8 59.3l2 2M401.8 61.3l2 -2M403.0 64.8l2 2M403.0 66.8l2 -2M404.2 57.1l2 2M404.2 59.1l2 -2M405.4 63.2l2 2M405.4 65.2l2 -2M406.6 67.5l2 2M406.6 69.5l2 -2M407.8 62.4l2 2M407.8 64.4l2 -2M409.0 59.9l2 2M409.0 61.9l2 -2M410.3 63.4l2 2M410.3 65.4l2 -2M411.5 60.8l2 2M411.5 62.8l2 -2M412.7 66.0l2 2M412.7 68.0l2 -2M413.9 74.5l2 2M413.9 76.5l2 -2M415.1 58.1l2 2M415.1 60.1l2 -2M416.3 59.1l2 2M416.3 61.1l2 -2M417.5 61.9l2 2M417.5 63.9l2 -2M418.7 62.2l2 2M418.7 64.2l2 -2M419.9 56.7l2 2M419.9 58.7l2 -2M421.1 64.7l2 2M421.1 66.7l2 -2M422.3 66.0l2 2M422.3 68.0l2 -2M423.6 63.0l2 2M423.6 65.0l2 -2M424.8 55.2l2 2M424.8 57.2l2 -2M426.0 69.4l2 2M426.0 71.4l2 -2M427.2 54.8l2 2M427.2 56.8l2 -2M428.4 65.0l2 2M428.4 67.0l2 -2M429.6 67.5l2 2M429.6 69.5l2 -2M430.8 54.0l2 2M430.8 56.0l2 -2M432.0 61.5l2 2M432.0 63.5l2 -2M433.2 68.3l2 2M433.2 70.3l2 -2M434.4 62.8l2 2M434.4 64.8l2 -2M435.6 55.2l2 2M435.6 57.2l2 -2M436.9 53.5l2 2M436.9 55.5l2 -2M438.1 62.8l2 2M438.1 64.8l2 -2M439.3 57.8l2 2M439.3 59.8l2 -2M440.5 55.9l2 2M440.5 57.9l2 -2M441.7 63.7l2 2M441.7 65.7l2 -2M442.9 57.7l2 2M442.9 59.7l2 -2M444.1 59.9l2 2M444.1 61.9l2 -2M445.3 62.8l2 2M445.3 64.8l2 -2M446.5 62.4l2 2M446.5 64.4l2 -2M447.7 58.9l2 2M447.7 60.9l2 -2M448.9 59.0l2 2M448.9 61.0l2 -2M450.1 62.5l2 2M450.1 64.5l2 -2M451.4 61.5l2 2M451.4 63.5l2 -2M452.6 52.0l2 2M452.6 54.0l2 -2M453.8 57.4l2 2M453.8 59.4l2 -2M455.0 53.1l2 2M455.0 55.1l2 -2M456.2 51.0l2 2M456.2 53.0l2 -2M457.4 54.7l2 2M457.4 56.7l2 -2M458.6 44.0l2 2M458.6 46.0l2 -2M459.8 63.3l2 2M459.8 65.3l2 -2M461.0 52.9l2 2M461.0 54.9l2 -2M462.2 59.9l2 2M462.2 61.9l2 -2M463.4 45.9l2 2M463.4 47.9l2 -2M464.7 46.7l2 2M464.7 48.7l2 -2M465.9 70.1l2 2M465.9 72.1l2 -2M467.1 63.7l2 2M467.1 65.7l2 -2M468.3 53.0l2 2M468.3 55.0l2 -2M469.5 52.0l2 2M469.5 54.0l2 -2" stroke="#00ff00" stroke-width="0.8" fill="none"/>
<polyline points="82.2,63.8 82.7,74.6 83.0,90.5 83.3,104.8 83.6,117.5 83.9,128.7 84.2,138.4 84.5,146.8 84.8,154.2 85.1,160.7 85.4,166.4 85.7,171.6 86.0,176.2 86.3,180.5 86.6,184.4 86.9,188.1 87.2,191.5 87.5,194.8 87.8,197.9 88.1,200.9 88.4,203.8 88.8,206.5 89.1,209.2 89.4,211.7 89.7,214.2 90.0,216.6 90.3,218.8 90.6,221.0 90.9,223.2 91.2,225.2 91.5,227.1 91.8,229.0 92.1,230.8 92.4,232.5 92.7,234.1 93.0,235.6 93.3,237.1 93.6,238.5 93.9,239.8 94.2,241.1 94.5,242.2 94.8,243.3 95.1,244.4 95.4,245.4 95.7,246.3 96.0,247.1 96.3,247.9 96.6,248.7 96.9,249.3 97.2,250.0 97.5,250.5 97.8,251.1 98.1,251.5 98.4,252.0 98.7,252.3 99.0,252.7 99.3,253.0 99.6,253.3 99.9,253.5 100.2,253.7 100.5,253.8 100.8,253.9 101.1,254.0 101.4,254.1 101.7,254.1 102.1,254.1 102.4,254.1 102.7,254.0 103.0,254.0 103.3,253.9 103.6,253.8 103.9,253.6 104.2,253.5 104.5,253.3 104.8,253.1 105.1,252.9 105.4,252.7 105.7,252.4 106.0,252.2 106.3,251.9 106.6,251.6 106.9,251.3 107.2,251.0 107.5,250.7 107.8,250.3 108.1,250.0 108.4,249.6 108.7,249.3 109.0,248.9 109.3,248.5 109.6,248.1 109.9,247.7 110.2,247.3 110.5,246.9 110.8,246.5 111.1,246.1 111.4,245.7 111.7,245.2 112.0,244.8 112.3,244.4 112.6,243.9 112.9,243.5 113.2,243.0 113.5,242.5 113.8,242.1 114.1,241.6 114.4,241.1 114.7,240.7 115.0,240.2 115.3,239.7 115.7,239.2 116.0,238.7 116.3,238.2 116.6,237.8 116.9,237.3 117.2,236.8 117.5,236.3 117.8,235.8 118.1,235.3 118.4,234.8 118.7,234.3 119.0,233.8 119.3,233.3 119.6,232.8 119.9,232.3 120.2,231.8 120.5,231.2 120.8,230.7 121.1,230.2 121.4,229.7 121.7,229.2 122.0,228.7 122.3,228.2 122.6,227.7 122.9,227.2 123.2,226.7 123.5,226.1 123.8,225.6 124.1,225.1 124.4,224.6 124.7,224.1 125.0,223.6 125.3,223.1 125.6,222.6 125.9,222.0 126.2,221.5 126.5,221.0 126.8,220.5 127.1,220.0 127.4,219.5 127.7,219.0 128.0,218.5 128.3,218.0 128.6,217.5 129.0,217.0 129.3,216.5 129.6,215.9 129.9,215.4 130.2,214.9 130.5,214.4 130.8,213.9 131.1,213.4 131.4,212.9 131.7,212.4 132.0,211.9 132.3,211.4 132.6,210.9 132.9,210.4 133.2,209.9 133.5,209.5 133.8,209.0 134.1,208.5 134.4,208.0 134.7,207.5 135.0,207.0 135.3,206.5 135.6,206.0 135.9,205.5 136.2,205.1 136.5,204.6 136.8,204.1 137.1,203.6" stroke="#00ff00" stroke-width="2.1" fill="none" stroke-linejoin="round"/>
<polyline points="136.2,205.1 136.5,204.6 136.8,204.1 137.1,203.6 137.4,203.1 137.7,202.6 138.0,202.2 138.3,201.7 138.6,201.2 138.9,200.7 139.2,200.3 139.5,199.8 139.8,199.3 140.1,198.9 140.4,198.4 140.7,197.9 141.0,197.5 141.3,197.0 141.6,196.5 141.9,196.1 142.2,195.6 142.6,195.2 142.9,194.7 143.2,194.2 143.5,193.8 143.8,193.3 144.1,192.9 144.4,192.4 144.7,192.0 145.0,191.5 145.3,191.1 145.6,190.6 145.9,190.2 146.2,189.8 146.5,189.3 146.8,188.9 147.1,188.4 147.4,188.0 147.7,187.6 148.0,187.1 148.3,186.7 148.6,186.3 148.9,185.8 149.2,185.4 149.5,185.0 149.8,184.6 150.1,184.1 150.4,183.7 150.7,183.3 151.0,182.9 151.3,182.4 151.6,182.0 151.9,181.6 152.2,181.2 152.5,180.8 152.8,180.4 153.1,180.0 153.4,179.6 153.7,179.2 154.0,178.7 154.3,178.3 154.6,177.9 154.9,177.5 155.2,177.1 155.5,176.7 155.9,176.3 156.2,175.9 156.5,175.6 156.8,175.2 157.1,174.8 157.4,174.4 157.7,174.0 158.0,173.6 158.3,173.2 158.6,172.8 158.9,172.4 159.2,172.1 159.5,171.7 159.8,171.3 160.1,170.9 160.4,170.6 160.7,170.2 161.0,169.8 161.3,169.4 161.6,169.1 161.9,168.7 162.2,168.3 162.5,168.0 162.8,167.6 163.1,167.2 163.4,166.9 163.7,166.5 164.0,166.1 164.3,165.8 164.6,165.4 164.9,165.1 165.2,164.7 165.5,164.4 165.8,164.0 166.1,163.7 166.4,163.3 166.7,163.0 167.0,162.6 167.3,162.3" stroke="#00ff00" stroke-width="2.2" fill="none" stroke-linejoin="round"/>
<polyline points="166.4,163.3 166.7,163.0 167.0,162.6 167.3,162.3 167.6,161.9 167.9,161.6 168.2,161.2 168.5,160.9 168.8,160.6 169.2,160.2 169.5,159.9 169.8,159.6 170.1,159.2 170.4,158.9 170.7,158.6 171.0,158.2 171.3,157.9 171.6,157.6 171.9,157.2 172.2,156.9 172.5,156.6 172.8,156.3 173.1,156.0 173.4,155.6 173.7,155.3 174.0,155.0 174.3,154.7 174.6,154.4 174.9,154.0 175.2,153.7 175.5,153.4 175.8,153.1 176.1,152.8 176.4,152.5 176.7,152.2 177.0,151.9 177.3,151.6 177.6,151.3 177.9,151.0 178.2,150.7 178.5,150.4 178.8,150.1 179.1,149.8 179.4,149.5 179.7,149.2 180.0,148.9 180.3,148.6 180.6,148.3 180.9,148.0 181.2,147.7 181.5,147.4 181.8,147.1 182.1,146.9 182.4,146.6 182.8,146.3 183.1,146.0 183.4,145.7 183.7,145.4 184.0,145.2 184.3,144.9 184.6,144.6 184.9,144.3 185.2,144.0 185.5,143.8 185.8,143.5 186.1,143.2 186.4,142.9 186.7,142.7 187.0,142.4 187.3,142.1 187.6,141.9 187.9,141.6 188.2,141.3 188.5,141.1 188.8,140.8 189.1,140.5 189.4,140.3 189.7,140.0 190.0,139.8 190.3,139.5 190.6,139.2 190.9,139.0 191.2,138.7 191.5,138.5 191.8,138.2 192.1,138.0 192.4,137.7 192.7,137.5 193.0,137.2 193.3,137.0 193.6,136.7 193.9,136.5 194.2,136.2 194.5,136.0 194.8,135.7 195.1,135.5 195.4,135.2 195.7,135.0 196.1,134.8 196.4,134.5 196.7,134.3 197.0,134.0 197.3,133.8 197.6,133.6 197.9,133.3 198.2,133.1 198.5,132.9 198.8,132.6 199.1,132.4 199.4,132.2 199.7,131.9 200.0,131.7 200.3,131.5 200.6,131.2 200.9,131.0 201.2,130.8 201.5,130.6 201.8,130.3 202.1,130.1 202.4,129.9 202.7,129.7 203.0,129.4 203.3,129.2 203.6,129.0 203.9,128.8 204.2,128.6 204.5,128.4 204.8,128.1 205.1,127.9 205.4,127.7 205.7,127.5 206.0,127.3 206.3,127.1 206.6,126.8 206.9,126.6 207.2,126.4 207.5,126.2 207.8,126.0 208.1,125.8 208.4,125.6 208.7,125.4 209.0,125.2 209.3,125.0 209.7,124.8 210.0,124.6 210.3,124.4 210.6,124.2 210.9,124.0 211.2,123.7 211.5,123.5 211.8,123.3 212.1,123.1 212.4,122.9 212.7,122.8 213.0,122.6 213.3,122.4 213.6,122.2 213.9,122.0 214.2,121.8 214.5,121.6 214.8,121.4 215.1,121.2 215.4,121.0 215.7,120.8 216.0,120.6 216.3,120.4 216.6,120.2 216.9,120.1 217.2,119.9 217.5,119.7 217.8,119.5 218.1,119.3 218.4,119.1 218.7,118.9 219.0,118.8 219.3,118.6 219.6,118.4 219.9,118.2 220.2,118.0 220.5,117.8 220.8,117.7 221.1,117.5 221.4,117.3 221.7,117.1 222.0,116.9 222.3,116.8 222.6,116.6 223.0,116.4 223.3,116.2 223.6,116.1 223.9,115.9 224.2,115.7 224.5,115.5 224.8,115.4 225.1,115.2 225.4,115.0 225.7,114.9 226.0,114.7 226.3,114.5 226.6,114.3 226.9,114.2 227.2,114.0 227.5,113.8 227.8,113.7 228.1,113.5 228.4,113.3 228.7,113.2 229.0,113.0 229.3,112.9 229.6,112.7 229.9,112.5 230.2,112.4 230.5,112.2 230.8,112.0 231.1,111.9 231.4,111.7 231.7,111.6 232.0,111.4 232.3,111.2 232.6,111.1 232.9,110.9 233.2,110.8 233.5,110.6 233.8,110.5 234.1,110.3 234.4,110.1 234.7,110.0 235.0,109.8 235.3,109.7 235.6,109.5 235.9,109.4 236.2,109.2 236.6,109.1 236.9,108.9 237.2,108.8 237.5,108.6 237.8,108.5 238.1,108.3 238.4,108.2 238.7,108.0 239.0,107.9 239.3,107.7 239.6,107.6 239.9,107.4 240.2,107.3 240.5,107.1 240.8,107.0 241.1,106.9 241.4,106.7 241.7,106.6 242.0,106.4 242.3,106.3 242.6,106.1 242.9,106.0 243.2,105.9 243.5,105.7 243.8,105.6 244.1,105.4 244.4,105.3 244.7,105.2 245.0,105.0 245.3,104.9 245.6,104.7 245.9,104.6 246.2,104.5 246.5,104.3 246.8,104.2 247.1,104.1 247.4,103.9 247.7,103.8 248.0,103.6 248.3,103.5 248.6,103.4 248.9,103.2 249.2,103.1 249.5,103.0 249.9,102.8 250.2,102.7 250.5,102.6 250.8,102.5 251.1,102.3 251.4,102.2 251.7,102.1 252.0,101.9 252.3,101.8 252.6,101.7 252.9,101.5 253.2,101.4 253.5,101.3 253.8,101.2 254.1,101.0 254.4,100.9 254.7,100.8 255.0,100.7 255.3,100.5 255.6,100.4 255.9,100.3 256.2,100.2 256.5,100.0 256.8,99.9 257.1,99.8 257.4,99.7 257.7,99.5 258.0,99.4 258.3,99.3 258.6,99.2 258.9,99.1 259.2,98.9 259.5,98.8 259.8,98.7 260.1,98.6 260.4,98.5 260.7,98.3 261.0,98.2 261.3,98.1 261.6,98.0 261.9,97.9 262.2,97.8 262.5,97.6 262.8,97.5 263.2,97.4 263.5,97.3 263.8,97.2 264.1,97.1 264.4,96.9 264.7,96.8 265.0,96.7 265.3,96.6 265.6,96.5 265.9,96.4 266.2,96.3 266.5,96.2 266.8,96.0 267.1,95.9 267.4,95.8 267.7,95.7 268.0,95.6 268.3,95.5 268.6,95.4 268.9,95.3 269.2,95.2 269.5,95.0 269.8,94.9 270.1,94.8 270.4,94.7 270.7,94.6 271.0,94.5 271.3,94.4 271.6,94.3 271.9,94.2 272.2,94.1 272.5,94.0 272.8,93.9 273.1,93.8 273.4,93.7 273.7,93.5 274.0,93.4 274.3,93.3 274.6,93.2 274.9,93.1 275.2,93.0 275.5,92.9 275.8,92.8 276.1,92.7 276.4,92.6 276.8,92.5 277.1,92.4 277.4,92.3 277.7,92.2 278.0,92.1 278.3,92.0 278.6,91.9 278.9,91.8 279.2,91.7 279.5,91.6 279.8,91.5 280.1,91.4 280.4,91.3 280.7,91.2 281.0,91.1 281.3,91.0 281.6,90.9 281.9,90.8 282.2,90.7 282.5,90.6 282.8,90.5 283.1,90.4 283.4,90.3 283.7,90.2 284.0,90.1 284.3,90.0 284.6,90.0 284.9,89.9 285.2,89.8 285.5,89.7 285.8,89.6 286.1,89.5 286.4,89.4 286.7,89.3 287.0,89.2 287.3,89.1 287.6,89.0 287.9,88.9 288.2,88.8 288.5,88.7 288.8,88.6 289.1,88.6 289.4,88.5 289.7,88.4 290.1,88.3 290.4,88.2 290.7,88.1 291.0,88.0 291.3,87.9 291.6,87.8 291.9,87.7 292.2,87.7 292.5,87.6 292.8,87.5 293.1,87.4 293.4,87.3 293.7,87.2 294.0,87.1 294.3,87.0 294.6,86.9 294.9,86.9 295.2,86.8 295.5,86.7 295.8,86.6 296.1,86.5 296.4,86.4 296.7,86.3 297.0,86.3 297.3,86.2 297.6,86.1 297.9,86.0 298.2,85.9 298.5,85.8 298.8,85.7 299.1,85.7 299.4,85.6 299.7,85.5 300.0,85.4 300.3,85.3 300.6,85.2 300.9,85.2 301.2,85.1 301.5,85.0 301.8,84.9 302.1,84.8 302.4,84.8 302.7,84.7 303.0,84.6 303.3,84.5 303.7,84.4 304.0,84.3 304.3,84.3 304.6,84.2 304.9,84.1 305.2,84.0 305.5,83.9 305.8,83.9 306.1,83.8 306.4,83.7 306.7,83.6 307.0,83.6 307.3,83.5 307.6,83.4 307.9,83.3 308.2,83.2 308.5,83.2 308.8,83.1 309.1,83.0 309.4,82.9 309.7,82.9 310.0,82.8 310.3,82.7 310.6,82.6 310.9,82.5 311.2,82.5 311.5,82.4 311.8,82.3 312.1,82.2 312.4,82.2 312.7,82.1 313.0,82.0 313.3,81.9 313.6,81.9 313.9,81.8 314.2,81.7 314.5,81.6 314.8,81.6 315.1,81.5 315.4,81.4 315.7,81.3 316.0,81.3 316.3,81.2 316.6,81.1 317.0,81.1 317.3,81.0 317.6,80.9 317.9,80.8 318.2,80.8 318.5,80.7 318.8,80.6 319.1,80.6 319.4,80.5 319.7,80.4 320.0,80.3 320.3,80.3 320.6,80.2 320.9,80.1 321.2,80.1 321.5,80.0 321.8,79.9 322.1,79.8 322.4,79.8 322.7,79.7 323.0,79.6 323.3,79.6 323.6,79.5 323.9,79.4 324.2,79.4 324.5,79.3 324.8,79.2 325.1,79.2 325.4,79.1 325.7,79.0 326.0,79.0 326.3,78.9 326.6,78.8 326.9,78.8 327.2,78.7 327.5,78.6 327.8,78.5 328.1,78.5 328.4,78.4 328.7,78.3 329.0,78.3 329.3,78.2 329.6,78.2 329.9,78.1 330.2,78.0 330.6,78.0 330.9,77.9 331.2,77.8 331.5,77.8 331.8,77.7 332.1,77.6 332.4,77.6 332.7,77.5 333.0,77.4 333.3,77.4 333.6,77.3 333.9,77.2 334.2,77.2 334.5,77.1 334.8,77.1 335.1,77.0 335.4,76.9 335.7,76.9 336.0,76.8 336.3,76.7 336.6,76.7 336.9,76.6 337.2,76.5 337.5,76.5 337.8,76.4 338.1,76.4 338.4,76.3 338.7,76.2 339.0,76.2 339.3,76.1 339.6,76.1 339.9,76.0 340.2,75.9 340.5,75.9 340.8,75.8 341.1,75.8 341.4,75.7 341.7,75.6 342.0,75.6 342.3,75.5 342.6,75.5 342.9,75.4 343.2,75.3 343.5,75.3 343.9,75.2 344.2,75.2 344.5,75.1 344.8,75.0 345.1,75.0 345.4,74.9 345.7,74.9 346.0,74.8 346.3,74.7 346.6,74.7 346.9,74.6 347.2,74.6 347.5,74.5 347.8,74.5 348.1,74.4 348.4,74.3 348.7,74.3 349.0,74.2 349.3,74.2 349.6,74.1 349.9,74.1 350.2,74.0 350.5,73.9 350.8,73.9 351.1,73.8 351.4,73.8 351.7,73.7 352.0,73.7 352.3,73.6 352.6,73.5 352.9,73.5 353.2,73.4 353.5,73.4 353.8,73.3 354.1,73.3 354.4,73.2 354.7,73.2 355.0,73.1 355.3,73.0 355.6,73.0 355.9,72.9 356.2,72.9 356.5,72.8 356.8,72.8 357.1,72.7 357.5,72.7 357.8,72.6 358.1,72.6 358.4,72.5 358.7,72.5 359.0,72.4 359.3,72.3 359.6,72.3 359.9,72.2 360.2,72.2 360.5,72.1 360.8,72.1 361.1,72.0 361.4,72.0 361.7,71.9 362.0,71.9 362.3,71.8 362.6,71.8 362.9,71.7 363.2,71.7 363.5,71.6 363.8,71.6 364.1,71.5 364.4,71.5 364.7,71.4 365.0,71.4 365.3,71.3 365.6,71.3 365.9,71.2 366.2,71.1 366.5,71.1 366.8,71.0 367.1,71.0 367.4,70.9 367.7,70.9 368.0,70.8 368.3,70.8 368.6,70.7 368.9,70.7 369.2,70.6 369.5,70.6 369.8,70.5 370.1,70.5 370.4,70.4 370.8,70.4 371.1,70.3 371.4,70.3 371.7,70.3 372.0,70.2 372.3,70.2 372.6,70.1 372.9,70.1 373.2,70.0 373.5,70.0 373.8,69.9 374.1,69.9 374.4,69.8 374.7,69.8 375.0,69.7 375.3,69.7 375.6,69.6 375.9,69.6 376.2,69.5 376.5,69.5 376.8,69.4 377.1,69.4 377.4,69.3 377.7,69.3 378.0,69.2 378.3,69.2 378.6,69.1 378.9,69.1 379.2,69.1 379.5,69.0 379.8,69.0 380.1,68.9 380.4,68.9 380.7,68.8 381.0,68.8 381.3,68.7 381.6,68.7 381.9,68.6 382.2,68.6 382.5,68.5 382.8,68.5 383.1,68.5 383.4,68.4 383.7,68.4 384.1,68.3 384.4,68.3 384.7,68.2 385.0,68.2 385.3,68.1 385.6,68.1 385.9,68.1 386.2,68.0 386.5,68.0 386.8,67.9 387.1,67.9 387.4,67.8 387.7,67.8 388.0,67.7 388.3,67.7 388.6,67.7 388.9,67.6 389.2,67.6 389.5,67.5 389.8,67.5 390.1,67.4 390.4,67.4 390.7,67.3 391.0,67.3 391.3,67.3 391.6,67.2 391.9,67.2 392.2,67.1 392.5,67.1 392.8,67.0 393.1,67.0 393.4,67.0 393.7,66.9 394.0,66.9 394.3,66.8 394.6,66.8 394.9,66.7 395.2,66.7 395.5,66.7 395.8,66.6 396.1,66.6 396.4,66.5 396.7,66.5 397.0,66.5 397.3,66.4 397.7,66.4 398.0,66.3 398.3,66.3 398.6,66.2 398.9,66.2 399.2,66.2 399.5,66.1 399.8,66.1 400.1,66.0 400.4,66.0 400.7,66.0 401.0,65.9 401.3,65.9 401.6,65.8 401.9,65.8 402.2,65.8 402.5,65.7 402.8,65.7 403.1,65.6 403.4,65.6 403.7,65.6 404.0,65.5 404.3,65.5 404.6,65.4 404.9,65.4 405.2,65.4 405.5,65.3 405.8,65.3 406.1,65.2 406.4,65.2 406.7,65.2 407.0,65.1 407.3,65.1 407.6,65.0 407.9,65.0 408.2,65.0 408.5,64.9 408.8,64.9 409.1,64.8 409.4,64.8 409.7,64.8 410.0,64.7 410.3,64.7 410.6,64.7 411.0,64.6 411.3,64.6 411.6,64.5 411.9,64.5 412.2,64.5 412.5,64.4 412.8,64.4 413.1,64.3 413.4,64.3 413.7,64.3 414.0,64.2 414.3,64.2 414.6,64.2 414.9,64.1 415.2,64.1 415.5,64.0 415.8,64.0 416.1,64.0 416.4,63.9 416.7,63.9 417.0,63.9 417.3,63.8 417.6,63.8 417.9,63.7 418.2,63.7 418.5,63.7 418.8,63.6 419.1,63.6 419.4,63.6 419.7,63.5 420.0,63.5 420.3,63.5 420.6,63.4 420.9,63.4 421.2,63.3 421.5,63.3 421.8,63.3 422.1,63.2 422.4,63.2 422.7,63.2 423.0,63.1 423.3,63.1 423.6,63.1 423.9,63.0 424.2,63.0 424.6,63.0 424.9,62.9 425.2,62.9 425.5,62.8 425.8,62.8 426.1,62.8 426.4,62.7 426.7,62.7 427.0,62.7 427.3,62.6 427.6,62.6 427.9,62.6 428.2,62.5 428.5,62.5 428.8,62.5 429.1,62.4 429.4,62.4 429.7,62.4 430.0,62.3 430.3,62.3 430.6,62.3 430.9,62.2 431.2,62.2 431.5,62.2 431.8,62.1 432.1,62.1 432.4,62.1 432.7,62.0 433.0,62.0 433.3,62.0 433.6,61.9 433.9,61.9 434.2,61.9 434.5,61.8 434.8,61.8 435.1,61.8 435.4,61.7 435.7,61.7 436.0,61.7 436.3,61.6 436.6,61.6 436.9,61.6 437.2,61.5 437.5,61.5 437.9,61.5 438.2,61.4 438.5,61.4 438.8,61.4 439.1,61.3 439.4,61.3 439.7,61.3 440.0,61.2 440.3,61.2 440.6,61.2 440.9,61.1 441.2,61.1 441.5,61.1 441.8,61.0 442.1,61.0 442.4,61.0 442.7,60.9 443.0,60.9 443.3,60.9 443.6,60.8 443.9,60.8 444.2,60.8 444.5,60.7 444.8,60.7 445.1,60.7 445.4,60.6 445.7,60.6 446.0,60.6 446.3,60.6 446.6,60.5 446.9,60.5 447.2,60.5 447.5,60.4 447.8,60.4 448.1,60.4 448.4,60.3 448.7,60.3 449.0,60.3 449.3,60.2 449.6,60.2 449.9,60.2 450.2,60.1 450.5,60.1 450.8,60.1 451.1,60.1 451.5,60.0 451.8,60.0 452.1,60.0 452.4,59.9 452.7,59.9 453.0,59.9 453.3,59.8 453.6,59.8 453.9,59.8 454.2,59.8 454.5,59.7 454.8,59.7 455.1,59.7 455.4,59.6 455.7,59.6 456.0,59.6 456.3,59.5 456.6,59.5 456.9,59.5 457.2,59.5 457.5,59.4 457.8,59.4 458.1,59.4 458.4,59.3 458.7,59.3 459.0,59.3 459.3,59.2 459.6,59.2 459.9,59.2 460.2,59.2 460.5,59.1 460.8,59.1 461.1,59.1 461.4,59.0 461.7,59.0 462.0,59.0 462.3,59.0 462.6,58.9 462.9,58.9 463.2,58.9 463.5,58.8 463.8,58.8 464.1,58.8 464.4,58.8 464.8,58.7 465.1,58.7 465.4,58.7 465.7,58.6 466.0,58.6 466.3,58.6 466.6,58.6 466.9,58.5 467.2,58.5 467.5,58.5 467.8,58.4 468.1,58.4 468.4,58.4 468.7,58.4 469.0,58.3 469.3,58.3 469.6,58.3 469.9,58.2 470.2,58.2 470.5,58.2" stroke="#00ff00" stroke-width="2.3" fill="none" stroke-linejoin="round"/>
<polyline points="99.9,860.2 100.5,833.1 101.1,807.7 101.7,783.9 102.4,761.4 103.0,740.2 103.6,720.2 104.2,701.3 104.8,683.4 105.4,666.4 106.0,650.2 106.6,634.9 107.2,620.2 107.8,606.3 108.4,592.9 109.0,580.2 109.6,568.0 110.2,556.4 110.8,545.2 111.4,534.5 112.0,524.2 112.6,514.3 113.2,504.8 113.8,495.7 114.4,486.9 115.0,478.4 115.7,470.2 116.3,462.3 116.9,454.7 117.5,447.3 118.1,440.2 118.7,433.3 119.3,426.7 119.9,420.2 120.5,414.0 121.1,407.9 121.7,402.0 122.3,396.3 122.9,390.8 123.5,385.4 124.1,380.2 124.7,375.1 125.3,370.2 125.9,365.4 126.5,360.8 127.1,356.2 127.7,351.8 128.3,347.5 129.0,343.3 129.6,339.2 130.2,335.2 130.8,331.3 131.4,327.5 132.0,323.8 132.6,320.2 133.2,316.7 133.8,313.2 134.4,309.9 135.0,306.6 135.6,303.4 136.2,300.2 136.8,297.1 137.4,294.1 138.0,291.2 138.6,288.3 139.2,285.5 139.8,282.7 140.4,280.0 141.0,277.4 141.6,274.8 142.3,272.2 142.9,269.7 143.5,267.3 144.1,264.9 144.7,262.5 145.3,260.2 145.9,257.9 146.5,255.7 147.1,253.5 147.7,251.4 148.3,249.3 148.9,247.2 149.5,245.2 150.1,243.2 150.7,241.3 151.3,239.3 151.9,237.4 152.5,235.6 153.1,233.8 153.7,232.0 154.3,230.2 154.9,228.5 155.5,226.8 156.2,225.1 156.8,223.4 157.4,221.8 158.0,220.2 158.6,218.6 159.2,217.1 159.8,215.6 160.4,214.1 161.0,212.6 161.6,211.1 162.2,209.7 162.8,208.3 163.4,206.9 164.0,205.5 164.6,204.1 165.2,202.8 165.8,201.5 166.4,200.2 167.0,198.9 167.6,197.7 168.2,196.4 168.8,195.2 169.5,194.0 170.1,192.8 170.7,191.6 171.3,190.5 171.9,189.3 172.5,188.2 173.1,187.1 173.7,186.0 174.3,184.9 174.9,183.8 175.5,182.8 176.1,181.7 176.7,180.7 177.3,179.7 177.9,178.7 178.5,177.7 179.1,176.7 179.7,175.8 180.3,174.8 180.9,173.9 181.5,172.9 182.1,172.0 182.8,171.1 183.4,170.2 184.0,169.3 184.6,168.4 185.2,167.6 185.8,166.7 186.4,165.9 187.0,165.0 187.6,164.2 188.2,163.4 188.8,162.6 189.4,161.8 190.0,161.0 190.6,160.2 191.2,159.4 191.8,158.7 192.4,157.9 193.0,157.2 193.6,156.4 194.2,155.7 194.8,155.0 195.4,154.2 196.1,153.5 196.7,152.8 197.3,152.1 197.9,151.5 198.5,150.8 199.1,150.1 199.7,149.4 200.3,148.8 200.9,148.1 201.5,147.5 202.1,146.8 202.7,146.2 203.3,145.6 203.9,145.0 204.5,144.3 205.1,143.7 205.7,143.1 206.3,142.5 206.9,141.9 207.5,141.4 208.1,140.8 208.7,140.2 209.3,139.6 210.0,139.1 210.6,138.5 211.2,138.0 211.8,137.4 212.4,136.9 213.0,136.3 213.6,135.8 214.2,135.3 214.8,134.7 215.4,134.2 216.0,133.7 216.6,133.2 217.2,132.7 217.8,132.2 218.4,131.7 219.0,131.2 219.6,130.7 220.2,130.2 220.8,129.8 221.4,129.3 222.0,128.8 222.6,128.4 223.3,127.9 223.9,127.4 224.5,127.0 225.1,126.5 225.7,126.1 226.3,125.6 226.9,125.2 227.5,124.8 228.1,124.3 228.7,123.9 229.3,123.5 229.9,123.1 230.5,122.6 231.1,122.2 231.7,121.8 232.3,121.4 232.9,121.0 233.5,120.6 234.1,120.2 234.7,119.8 235.3,119.4 235.9,119.0 236.6,118.6 237.2,118.3 237.8,117.9 238.4,117.5 239.0,117.1 239.6,116.8 240.2,116.4 240.8,116.0 241.4,115.7 242.0,115.3 242.6,114.9 243.2,114.6 243.8,114.2 244.4,113.9 245.0,113.5 245.6,113.2 246.2,112.9 246.8,112.5 247.4,112.2 248.0,111.8 248.6,111.5 249.2,111.2 249.9,110.9 250.5,110.5 251.1,110.2 251.7,109.9 252.3,109.6 252.9,109.2 253.5,108.9 254.1,108.6 254.7,108.3 255.3,108.0 255.9,107.7 256.5,107.4 257.1,107.1 257.7,106.8 258.3,106.5 258.9,106.2 259.5,105.9 260.1,105.6 260.7,105.3 261.3,105.1 261.9,104.8 262.5,104.5 263.2,104.2 263.8,103.9 264.4,103.6 265.0,103.4 265.6,103.1 266.2,102.8 266.8,102.6 267.4,102.3 268.0,102.0 268.6,101.8 269.2,101.5 269.8,101.2 270.4,101.0 271.0,100.7 271.6,100.5 272.2,100.2 272.8,99.9 273.4,99.7 274.0,99.4 274.6,99.2 275.2,99.0 275.8,98.7 276.4,98.5 277.1,98.2 277.7,98.0 278.3,97.7 278.9,97.5 279.5,97.3 280.1,97.0 280.7,96.8 281.3,96.6 281.9,96.3 282.5,96.1 283.1,95.9 283.7,95.7 284.3,95.4 284.9,95.2 285.5,95.0 286.1,94.8 286.7,94.5 287.3,94.3 287.9,94.1 288.5,93.9 289.1,93.7 289.7,93.5 290.4,93.2 291.0,93.0 291.6,92.8 292.2,92.6 292.8,92.4 293.4,92.2 294.0,92.0 294.6,91.8 295.2,91.6 295.8,91.4 296.4,91.2 297.0,91.0 297.6,90.8 298.2,90.6 298.8,90.4 299.4,90.2 300.0,90.0 300.6,89.8 301.2,89.6 301.8,89.4 302.4,89.2 303.0,89.1 303.7,88.9 304.3,88.7 304.9,88.5 305.5,88.3 306.1,88.1 306.7,87.9 307.3,87.8 307.9,87.6 308.5,87.4 309.1,87.2 309.7,87.0 310.3,86.9 310.9,86.7 311.5,86.5 312.1,86.3 312.7,86.2 313.3,86.0 313.9,85.8 314.5,85.7 315.1,85.5 315.7,85.3 316.3,85.2 317.0,85.0 317.6,84.8 318.2,84.7 318.8,84.5 319.4,84.3 320.0,84.2 320.6,84.0 321.2,83.8 321.8,83.7 322.4,83.5 323.0,83.4 323.6,83.2 324.2,83.0 324.8,82.9 325.4,82.7 326.0,82.6 326.6,82.4 327.2,82.3 327.8,82.1 328.4,82.0 329.0,81.8 329.6,81.7 330.2,81.5 330.9,81.4 331.5,81.2 332.1,81.1 332.7,80.9 333.3,80.8 333.9,80.6 334.5,80.5 335.1,80.3 335.7,80.2 336.3,80.1 336.9,79.9 337.5,79.8 338.1,79.6 338.7,79.5 339.3,79.4 339.9,79.2 340.5,79.1 341.1,78.9 341.7,78.8 342.3,78.7 342.9,78.5 343.5,78.4 344.2,78.3 344.8,78.1 345.4,78.0 346.0,77.9 346.6,77.7 347.2,77.6 347.8,77.5 348.4,77.3 349.0,77.2 349.6,77.1 350.2,77.0 350.8,76.8 351.4,76.7 352.0,76.6 352.6,76.5 353.2,76.3 353.8,76.2 354.4,76.1 355.0,76.0 355.6,75.8 356.2,75.7 356.8,75.6 357.5,75.5 358.1,75.3 358.7,75.2 359.3,75.1 359.9,75.0 360.5,74.9 361.1,74.7 361.7,74.6 362.3,74.5 362.9,74.4 363.5,74.3 364.1,74.2 364.7,74.0 365.3,73.9 365.9,73.8 366.5,73.7 367.1,73.6 367.7,73.5 368.3,73.4 368.9,73.3 369.5,73.1 370.1,73.0 370.8,72.9 371.4,72.8 372.0,72.7 372.6,72.6 373.2,72.5 373.8,72.4 374.4,72.3 375.0,72.2 375.6,72.1 376.2,71.9 376.8,71.8 377.4,71.7 378.0,71.6 378.6,71.5 379.2,71.4 379.8,71.3 380.4,71.2 381.0,71.1 381.6,71.0 382.2,70.9 382.8,70.8 383.4,70.7 384.1,70.6 384.7,70.5 385.3,70.4 385.9,70.3 386.5,70.2 387.1,70.1 387.7,70.0 388.3,69.9 388.9,69.8 389.5,69.7 390.1,69.6 390.7,69.5 391.3,69.4 391.9,69.3 392.5,69.2 393.1,69.1 393.7,69.0 394.3,68.9 394.9,68.9 395.5,68.8 396.1,68.7 396.7,68.6 397.3,68.5 398.0,68.4 398.6,68.3 399.2,68.2 399.8,68.1 400.4,68.0 401.0,67.9 401.6,67.8 402.2,67.7 402.8,67.7 403.4,67.6 404.0,67.5 404.6,67.4 405.2,67.3 405.8,67.2 406.4,67.1 407.0,67.0 407.6,67.0 408.2,66.9 408.8,66.8 409.4,66.7 410.0,66.6 410.6,66.5 411.3,66.4 411.9,66.4 412.5,66.3 413.1,66.2 413.7,66.1 414.3,66.0 414.9,65.9 415.5,65.9 416.1,65.8 416.7,65.7 417.3,65.6 417.9,65.5 418.5,65.4 419.1,65.4 419.7,65.3 420.3,65.2 420.9,65.1 421.5,65.0 422.1,65.0 422.7,64.9 423.3,64.8 423.9,64.7 424.6,64.6 425.2,64.6 425.8,64.5 426.4,64.4 427.0,64.3 427.6,64.3 428.2,64.2 428.8,64.1 429.4,64.0 430.0,64.0 430.6,63.9 431.2,63.8 431.8,63.7 432.4,63.6 433.0,63.6 433.6,63.5 434.2,63.4 434.8,63.4 435.4,63.3 436.0,63.2 436.6,63.1 437.2,63.1 437.9,63.0 438.5,62.9 439.1,62.8 439.7,62.8 440.3,62.7 440.9,62.6 441.5,62.6 442.1,62.5 442.7,62.4 443.3,62.3 443.9,62.3 444.5,62.2 445.1,62.1 445.7,62.1 446.3,62.0 446.9,61.9 447.5,61.9 448.1,61.8 448.7,61.7 449.3,61.6 449.9,61.6 450.5,61.5 451.1,61.4 451.8,61.4 452.4,61.3 453.0,61.2 453.6,61.2 454.2,61.1 454.8,61.0 455.4,61.0 456.0,60.9 456.6,60.8 457.2,60.8 457.8,60.7 458.4,60.7 459.0,60.6 459.6,60.5 460.2,60.5 460.8,60.4 461.4,60.3 462.0,60.3 462.6,60.2 463.2,60.1 463.8,60.1 464.4,60.0 465.1,59.9 465.7,59.9 466.3,59.8 466.9,59.8 467.5,59.7 468.1,59.6 468.7,59.6 469.3,59.5 469.9,59.5 470.5,59.4" stroke="#00ff00" stroke-width="0.5" fill="none"/>
<path d="M93.4 274.9h2.2M94.5 273.8v2.2M93.8 274.2l1.4 1.4M93.8 275.6l1.4 -1.4M94.6 279.6h2.2M95.7 278.5v2.2M95.0 278.9l1.4 1.4M95.0 280.3l1.4 -1.4M95.8 283.3h2.2M96.9 282.2v2.2M96.2 282.6l1.4 1.4M96.2 284.0l1.4 -1.4M97.0 286.4h2.2M98.1 285.3v2.2M97.4 285.7l1.4 1.4M97.4 287.1l1.4 -1.4M98.2 289.1h2.2M99.3 288.0v2.2M98.6 288.4l1.4 1.4M98.6 289.8l1.4 -1.4M99.4 290.6h2.2M100.5 289.5v2.2M99.8 289.9l1.4 1.4M99.8 291.3l1.4 -1.4M100.6 291.0h2.2M101.7 289.9v2.2M101.0 290.3l1.4 1.4M101.0 291.7l1.4 -1.4M101.9 293.5h2.2M103.0 292.4v2.2M102.3 292.8l1.4 1.4M102.3 294.2l1.4 -1.4M103.1 292.7h2.2M104.2 291.6v2.2M103.5 292.0l1.4 1.4M103.5 293.4l1.4 -1.4M104.3 293.3h2.2M105.4 292.2v2.2M104.7 292.6l1.4 1.4M104.7 294.0l1.4 -1.4M105.5 292.3h2.2M106.6 291.2v2.2M105.9 291.6l1.4 1.4M105.9 293.0l1.4 -1.4M106.7 291.3h2.2M107.8 290.2v2.2M107.1 290.6l1.4 1.4M107.1 292.0l1.4 -1.4M107.9 290.9h2.2M109.0 289.8v2.2M108.3 290.2l1.4 1.4M108.3 291.6l1.4 -1.4M109.1 289.3h2.2M110.2 288.2v2.2M109.5 288.6l1.4 1.4M109.5 290.0l1.4 -1.4M110.3 289.3h2.2M111.4 288.2v2.2M110.7 288.6l1.4 1.4M110.7 290.0l1.4 -1.4M111.5 286.3h2.2M112.6 285.2v2.2M111.9 285.6l1.4 1.4M111.9 287.0l1.4 -1.4M112.7 285.7h2.2M113.8 284.6v2.2M113.1 285.0l1.4 1.4M113.1 286.4l1.4 -1.4M113.9 283.2h2.2M115.0 282.1v2.2M114.3 282.5l1.4 1.4M114.3 283.9l1.4 -1.4M115.2 281.7h2.2M116.3 280.6v2.2M115.6 281.0l1.4 1.4M115.6 282.4l1.4 -1.4M116.4 281.6h2.2M117.5 280.5v2.2M116.8 280.9l1.4 1.4M116.8 282.3l1.4 -1.4M117.6 278.4h2.2M118.7 277.3v2.2M118.0 277.7l1.4 1.4M118.0 279.1l1.4 -1.4M118.8 275.8h2.2M119.9 274.7v2.2M119.2 275.1l1.4 1.4M119.2 276.5l1.4 -1.4M120.0 272.8h2.2M121.1 271.7v2.2M120.4 272.1l1.4 1.4M120.4 273.5l1.4 -1.4M121.2 271.5h2.2M122.3 270.4v2.2M121.6 270.8l1.4 1.4M121.6 272.2l1.4 -1.4M122.4 269.3h2.2M123.5 268.2v2.2M122.8 268.6l1.4 1.4M122.8 270.0l1.4 -1.4M123.6 268.3h2.2M124.7 267.2v2.2M124.0 267.6l1.4 1.4M124.0 269.0l1.4 -1.4M124.8 264.1h2.2M125.9 263.0v2.2M125.2 263.4l1.4 1.4M125.2 264.8l1.4 -1.4M126.0 261.5h2.2M127.1 260.4v2.2M126.4 260.8l1.4 1.4M126.4 262.2l1.4 -1.4M127.2 260.5h2.2M128.3 259.4v2.2M127.6 259.8l1.4 1.4M127.6 261.2l1.4 -1.4M128.5 258.5h2.2M129.6 257.4v2.2M128.9 257.8l1.4 1.4M128.9 259.2l1.4 -1.4M129.7 257.3h2.2M130.8 256.2v2.2M130.1 256.6l1.4 1.4M130.1 258.0l1.4 -1.4M130.9 253.1h2.2M132.0 252.0v2.2M131.3 252.4l1.4 1.4M131.3 253.8l1.4 -1.4M132.1 249.4h2.2M133.2 248.3v2.2M132.5 248.7l1.4 1.4M132.5 250.1l1.4 -1.4M133.3 248.7h2.2M134.4 247.6v2.2M133.7 248.0l1.4 1.4M133.7 249.4l1.4 -1.4M134.5 245.9h2.2M135.6 244.8v2.2M134.9 245.2l1.4 1.4M134.9 246.6l1.4 -1.4M135.7 244.3h2.2M136.8 243.2v2.2M136.1 243.6l1.4 1.4M136.1 245.0l1.4 -1.4M136.9 243.3h2.2M138.0 242.2v2.2M137.3 242.6l1.4 1.4M137.3 244.0l1.4 -1.4M138.1 239.1h2.2M139.2 238.0v2.2M138.5 238.4l1.4 1.4M138.5 239.8l1.4 -1.4M139.3 239.1h2.2M140.4 238.0v2.2M139.7 238.4l1.4 1.4M139.7 239.8l1.4 -1.4M140.5 236.0h2.2M141.6 234.9v2.2M140.9 235.3l1.4 1.4M140.9 236.7l1.4 -1.4M141.8 233.4h2.2M142.9 232.3v2.2M142.2 232.7l1.4 1.4M142.2 234.1l1.4 -1.4M143.0 230.7h2.2M144.1 229.6v2.2M143.4 230.0l1.4 1.4M143.4 231.4l1.4 -1.4M144.2 229.0h2.2M145.3 227.9v2.2M144.6 228.3l1.4 1.4M144.6 229.7l1.4 -1.4M145.4 226.9h2.2M146.5 225.8v2.2M145.8 226.2l1.4 1.4M145.8 227.6l1.4 -1.4M146.6 225.9h2.2M147.7 224.8v2.2M147.0 225.2l1.4 1.4M147.0 226.6l1.4 -1.4M147.8 224.3h2.2M148.9 223.2v2.2M148.2 223.6l1.4 1.4M148.2 225.0l1.4 -1.4M149.0 221.0h2.2M150.1 219.9v2.2M149.4 220.3l1.4 1.4M149.4 221.7l1.4 -1.4M150.2 219.7h2.2M151.3 218.6v2.2M150.6 219.0l1.4 1.4M150.6 220.4l1.4 -1.4M151.4 218.3h2.2M152.5 217.2v2.2M151.8 217.6l1.4 1.4M151.8 219.0l1.4 -1.4M152.6 216.3h2.2M153.7 215.2v2.2M153.0 215.6l1.4 1.4M153.0 217.0l1.4 -1.4M153.8 213.6h2.2M154.9 212.5v2.2M154.2 212.9l1.4 1.4M154.2 214.3l1.4 -1.4M155.1 213.1h2.2M156.2 212.0v2.2M155.5 212.4l1.4 1.4M155.5 213.8l1.4 -1.4M156.3 210.7h2.2M157.4 209.6v2.2M156.7 210.0l1.4 1.4M156.7 211.4l1.4 -1.4M157.5 209.1h2.2M158.6 208.0v2.2M157.9 208.4l1.4 1.4M157.9 209.8l1.4 -1.4M158.7 205.4h2.2M159.8 204.3v2.2M159.1 204.7l1.4 1.4M159.1 206.1l1.4 -1.4M159.9 203.3h2.2M161.0 202.2v2.2M160.3 202.6l1.4 1.4M160.3 204.0l1.4 -1.4M161.1 199.8h2.2M162.2 198.7v2.2M161.5 199.1l1.4 1.4M161.5 200.5l1.4 -1.4M162.3 201.8h2.2M163.4 200.7v2.2M162.7 201.1l1.4 1.4M162.7 202.5l1.4 -1.4M163.5 199.2h2.2M164.6 198.1v2.2M163.9 198.5l1.4 1.4M163.9 199.9l1.4 -1.4M164.7 195.7h2.2M165.8 194.6v2.2M165.1 195.0l1.4 1.4M165.1 196.4l1.4 -1.4M165.9 195.2h2.2M167.0 194.1v2.2M166.3 194.5l1.4 1.4M166.3 195.9l1.4 -1.4M167.1 193.7h2.2M168.2 192.6v2.2M167.5 193.0l1.4 1.4M167.5 194.4l1.4 -1.4M168.4 189.7h2.2M169.5 188.6v2.2M168.8 189.0l1.4 1.4M168.8 190.4l1.4 -1.4M169.6 190.4h2.2M170.7 189.3v2.2M170.0 189.7l1.4 1.4M170.0 191.1l1.4 -1.4M170.8 189.8h2.2M171.9 188.7v2.2M171.2 189.1l1.4 1.4M171.2 190.5l1.4 -1.4M172.0 188.5h2.2M173.1 187.4v2.2M172.4 187.8l1.4 1.4M172.4 189.2l1.4 -1.4M173.2 184.9h2.2M174.3 183.8v2.2M173.6 184.2l1.4 1.4M173.6 185.6l1.4 -1.4M174.4 183.4h2.2M175.5 182.3v2.2M174.8 182.7l1.4 1.4M174.8 184.1l1.4 -1.4M175.6 184.0h2.2M176.7 182.9v2.2M176.0 183.3l1.4 1.4M176.0 184.7l1.4 -1.4M176.8 182.0h2.2M177.9 180.9v2.2M177.2 181.3l1.4 1.4M177.2 182.7l1.4 -1.4M178.0 178.6h2.2M179.1 177.5v2.2M178.4 177.9l1.4 1.4M178.4 179.3l1.4 -1.4M179.2 177.1h2.2M180.3 176.0v2.2M179.6 176.4l1.4 1.4M179.6 177.8l1.4 -1.4M180.4 177.3h2.2M181.5 176.2v2.2M180.8 176.6l1.4 1.4M180.8 178.0l1.4 -1.4M181.7 174.2h2.2M182.8 173.1v2.2M182.1 173.5l1.4 1.4M182.1 174.9l1.4 -1.4M182.9 172.8h2.2M184.0 171.7v2.2M183.3 172.1l1.4 1.4M183.3 173.5l1.4 -1.4M184.1 174.7h2.2M185.2 173.6v2.2M184.5 174.0l1.4 1.4M184.5 175.4l1.4 -1.4M185.3 171.3h2.2M186.4 170.2v2.2M185.7 170.6l1.4 1.4M185.7 172.0l1.4 -1.4M186.5 169.0h2.2M187.6 167.9v2.2M186.9 168.3l1.4 1.4M186.9 169.7l1.4 -1.4M187.7 169.1h2.2M188.8 168.0v2.2M188.1 168.4l1.4 1.4M188.1 169.8l1.4 -1.4M188.9 170.1h2.2M190.0 169.0v2.2M189.3 169.4l1.4 1.4M189.3 170.8l1.4 -1.4M190.1 166.1h2.2M191.2 165.0v2.2M190.5 165.4l1.4 1.4M190.5 166.8l1.4 -1.4M191.3 163.4h2.2M192.4 162.3v2.2M191.7 162.7l1.4 1.4M191.7 164.1l1.4 -1.4M192.5 160.9h2.2M193.6 159.8v2.2M192.9 160.2l1.4 1.4M192.9 161.6l1.4 -1.4M193.7 165.3h2.2M194.8 164.2v2.2M194.1 164.6l1.4 1.4M194.1 166.0l1.4 -1.4M195.0 156.9h2.2M196.1 155.8v2.2M195.4 156.2l1.4 1.4M195.4 157.6l1.4 -1.4M196.2 161.4h2.2M197.3 160.3v2.2M196.6 160.7l1.4 1.4M196.6 162.1l1.4 -1.4M197.4 157.0h2.2M198.5 155.9v2.2M197.8 156.3l1.4 1.4M197.8 157.7l1.4 -1.4M198.6 155.4h2.2M199.7 154.3v2.2M199.0 154.7l1.4 1.4M199.0 156.1l1.4 -1.4M199.8 154.7h2.2M200.9 153.6v2.2M200.2 154.0l1.4 1.4M200.2 155.4l1.4 -1.4M201.0 154.9h2.2M202.1 153.8v2.2M201.4 154.2l1.4 1.4M201.4 155.6l1.4 -1.4M202.2 155.9h2.2M203.3 154.8v2.2M202.6 155.2l1.4 1.4M202.6 156.6l1.4 -1.4M203.4 151.9h2.2M204.5 150.8v2.2M203.8 151.2l1.4 1.4M203.8 152.6l1.4 -1.4M204.6 153.1h2.2M205.7 152.0v2.2M205.0 152.4l1.4 1.4M205.0 153.8l1.4 -1.4M205.8 155.0h2.2M206.9 153.9v2.2M206.2 154.3l1.4 1.4M206.2 155.7l1.4 -1.4M207.0 145.0h2.2M208.1 143.9v2.2M207.4 144.3l1.4 1.4M207.4 145.7l1.4 -1.4M208.2 147.6h2.2M209.3 146.5v2.2M208.6 146.9l1.4 1.4M208.6 148.3l1.4 -1.4M209.5 144.7h2.2M210.6 143.6v2.2M209.9 144.0l1.4 1.4M209.9 145.4l1.4 -1.4M210.7 148.4h2.2M211.8 147.3v2.2M211.1 147.7l1.4 1.4M211.1 149.1l1.4 -1.4M211.9 143.2h2.2M213.0 142.1v2.2M212.3 142.5l1.4 1.4M212.3 143.9l1.4 -1.4M213.1 142.0h2.2M214.2 140.9v2.2M213.5 141.3l1.4 1.4M213.5 142.7l1.4 -1.4M214.3 141.1h2.2M215.4 140.0v2.2M214.7 140.4l1.4 1.4M214.7 141.8l1.4 -1.4M215.5 143.0h2.2M216.6 141.9v2.2M215.9 142.3l1.4 1.4M215.9 143.7l1.4 -1.4M216.7 144.2h2.2M217.8 143.1v2.2M217.1 143.5l1.4 1.4M217.1 144.9l1.4 -1.4M217.9 141.4h2.2M219.0 140.3v2.2M218.3 140.7l1.4 1.4M218.3 142.1l1.4 -1.4M219.1 144.3h2.2M220.2 143.2v2.2M219.5 143.6l1.4 1.4M219.5 145.0l1.4 -1.4M220.3 142.5h2.2M221.4 141.4v2.2M220.7 141.8l1.4 1.4M220.7 143.2l1.4 -1.4M221.5 138.3h2.2M222.6 137.2v2.2M221.9 137.6l1.4 1.4M221.9 139.0l1.4 -1.4M222.8 139.5h2.2M223.9 138.4v2.2M223.2 138.8l1.4 1.4M223.2 140.2l1.4 -1.4M224.0 137.1h2.2M225.1 136.0v2.2M224.4 136.4l1.4 1.4M224.4 137.8l1.4 -1.4M225.2 136.1h2.2M226.3 135.0v2.2M225.6 135.4l1.4 1.4M225.6 136.8l1.4 -1.4M226.4 131.3h2.2M227.5 130.2v2.2M226.8 130.6l1.4 1.4M226.8 132.0l1.4 -1.4M227.6 131.7h2.2M228.7 130.6v2.2M228.0 131.0l1.4 1.4M228.0 132.4l1.4 -1.4M228.8 133.5h2.2M229.9 132.4v2.2M229.2 132.8l1.4 1.4M229.2 134.2l1.4 -1.4M230.0 130.2h2.2M231.1 129.1v2.2M230.4 129.5l1.4 1.4M230.4 130.9l1.4 -1.4M231.2 133.4h2.2M232.3 132.3v2.2M231.6 132.7l1.4 1.4M231.6 134.1l1.4 -1.4M232.4 131.8h2.2M233.5 130.7v2.2M232.8 131.1l1.4 1.4M232.8 132.5l1.4 -1.4M233.6 128.4h2.2M234.7 127.3v2.2M234.0 127.7l1.4 1.4M234.0 129.1l1.4 -1.4M234.8 132.1h2.2M235.9 131.0v2.2M235.2 131.4l1.4 1.4M235.2 132.8l1.4 -1.4M236.1 129.4h2.2M237.2 128.3v2.2M236.5 128.7l1.4 1.4M236.5 130.1l1.4 -1.4M237.3 130.9h2.2M238.4 129.8v2.2M237.7 130.2l1.4 1.4M237.7 131.6l1.4 -1.4M238.5 127.1h2.2M239.6 126.0v2.2M238.9 126.4l1.4 1.4M238.9 127.8l1.4 -1.4M239.7 123.1h2.2M240.8 122.0v2.2M240.1 122.4l1.4 1.4M240.1 123.8l1.4 -1.4M240.9 127.5h2.2M242.0 126.4v2.2M241.3 126.8l1.4 1.4M241.3 128.2l1.4 -1.4M242.1 124.7h2.2M243.2 123.6v2.2M242.5 124.0l1.4 1.4M242.5 125.4l1.4 -1.4M243.3 126.5h2.2M244.4 125.4v2.2M243.7 125.8l1.4 1.4M243.7 127.2l1.4 -1.4M244.5 126.4h2.2M245.6 125.3v2.2M244.9 125.7l1.4 1.4M244.9 127.1l1.4 -1.4M245.7 125.9h2.2M246.8 124.8v2.2M246.1 125.2l1.4 1.4M246.1 126.6l1.4 -1.4M246.9 119.2h2.2M248.0 118.1v2.2M247.3 118.5l1.4 1.4M247.3 119.9l1.4 -1.4M248.1 116.4h2.2M249.2 115.3v2.2M248.5 115.7l1.4 1.4M248.5 117.1l1.4 -1.4M249.4 120.0h2.2M250.5 118.9v2.2M249.8 119.3l1.4 1.4M249.8 120.7l1.4 -1.4M250.6 122.2h2.2M251.7 121.1v2.2M251.0 121.5l1.4 1.4M251.0 122.9l1.4 -1.4M251.8 118.2h2.2M252.9 117.1v2.2M252.2 117.5l1.4 1.4M252.2 118.9l1.4 -1.4M253.0 120.0h2.2M254.1 118.9v2.2M253.4 119.3l1.4 1.4M253.4 120.7l1.4 -1.4M254.2 116.7h2.2M255.3 115.6v2.2M254.6 116.0l1.4 1.4M254.6 117.4l1.4 -1.4M255.4 117.3h2.2M256.5 116.2v2.2M255.8 116.6l1.4 1.4M255.8 118.0l1.4 -1.4M256.6 116.7h2.2M257.7 115.6v2.2M257.0 116.0l1.4 1.4M257.0 117.4l1.4 -1.4M257.8 115.3h2.2M258.9 114.2v2.2M258.2 114.6l1.4 1.4M258.2 116.0l1.4 -1.4M259.0 117.6h2.2M260.1 116.5v2.2M259.4 116.9l1.4 1.4M259.4 118.3l1.4 -1.4M260.2 116.6h2.2M261.3 115.5v2.2M260.6 115.9l1.4 1.4M260.6 117.3l1.4 -1.4M261.4 119.4h2.2M262.5 118.3v2.2M261.8 118.7l1.4 1.4M261.8 120.1l1.4 -1.4M262.7 115.6h2.2M263.8 114.5v2.2M263.1 114.9l1.4 1.4M263.1 116.3l1.4 -1.4M263.9 117.5h2.2M265.0 116.4v2.2M264.3 116.8l1.4 1.4M264.3 118.2l1.4 -1.4M265.1 113.7h2.2M266.2 112.6v2.2M265.5 113.0l1.4 1.4M265.5 114.4l1.4 -1.4M266.3 115.3h2.2M267.4 114.2v2.2M266.7 114.6l1.4 1.4M266.7 116.0l1.4 -1.4M267.5 112.0h2.2M268.6 110.9v2.2M267.9 111.3l1.4 1.4M267.9 112.7l1.4 -1.4M268.7 110.5h2.2M269.8 109.4v2.2M269.1 109.8l1.4 1.4M269.1 111.2l1.4 -1.4M269.9 114.9h2.2M271.0 113.8v2.2M270.3 114.2l1.4 1.4M270.3 115.6l1.4 -1.4M271.1 112.8h2.2M272.2 111.7v2.2M271.5 112.1l1.4 1.4M271.5 113.5l1.4 -1.4M272.3 112.6h2.2M273.4 111.5v2.2M272.7 111.9l1.4 1.4M272.7 113.3l1.4 -1.4M273.5 107.6h2.2M274.6 106.5v2.2M273.9 106.9l1.4 1.4M273.9 108.3l1.4 -1.4M274.7 104.4h2.2M275.8 103.3v2.2M275.1 103.7l1.4 1.4M275.1 105.1l1.4 -1.4M276.0 106.2h2.2M277.1 105.1v2.2M276.4 105.5l1.4 1.4M276.4 106.9l1.4 -1.4M277.2 109.0h2.2M278.3 107.9v2.2M277.6 108.3l1.4 1.4M277.6 109.7l1.4 -1.4M278.4 103.5h2.2M279.5 102.4v2.2M278.8 102.8l1.4 1.4M278.8 104.2l1.4 -1.4M279.6 111.3h2.2M280.7 110.2v2.2M280.0 110.6l1.4 1.4M280.0 112.0l1.4 -1.4M280.8 102.4h2.2M281.9 101.3v2.2M281.2 101.7l1.4 1.4M281.2 103.1l1.4 -1.4M282.0 108.0h2.2M283.1 106.9v2.2M282.4 107.3l1.4 1.4M282.4 108.7l1.4 -1.4M283.2 113.6h2.2M284.3 112.5v2.2M283.6 112.9l1.4 1.4M283.6 114.3l1.4 -1.4M284.4 97.5h2.2M285.5 96.4v2.2M284.8 96.8l1.4 1.4M284.8 98.2l1.4 -1.4M285.6 100.1h2.2M286.7 99.0v2.2M286.0 99.4l1.4 1.4M286.0 100.8l1.4 -1.4M286.8 107.3h2.2M287.9 106.2v2.2M287.2 106.6l1.4 1.4M287.2 108.0l1.4 -1.4M288.0 103.3h2.2M289.1 102.2v2.2M288.4 102.6l1.4 1.4M288.4 104.0l1.4 -1.4M289.3 104.0h2.2M290.4 102.9v2.2M289.7 103.3l1.4 1.4M289.7 104.7l1.4 -1.4M290.5 102.6h2.2M291.6 101.5v2.2M290.9 101.9l1.4 1.4M290.9 103.3l1.4 -1.4M291.7 106.9h2.2M292.8 105.8v2.2M292.1 106.2l1.4 1.4M292.1 107.6l1.4 -1.4M292.9 104.1h2.2M294.0 103.0v2.2M293.3 103.4l1.4 1.4M293.3 104.8l1.4 -1.4M294.1 100.2h2.2M295.2 99.1v2.2M294.5 99.5l1.4 1.4M294.5 100.9l1.4 -1.4M295.3 100.5h2.2M296.4 99.4v2.2M295.7 99.8l1.4 1.4M295.7 101.2l1.4 -1.4M296.5 97.0h2.2M297.6 95.9v2.2M296.9 96.3l1.4 1.4M296.9 97.7l1.4 -1.4M297.7 100.1h2.2M298.8 99.0v2.2M298.1 99.4l1.4 1.4M298.1 100.8l1.4 -1.4M298.9 92.5h2.2M300.0 91.4v2.2M299.3 91.8l1.4 1.4M299.3 93.2l1.4 -1.4M300.1 101.7h2.2M301.2 100.6v2.2M300.5 101.0l1.4 1.4M300.5 102.4l1.4 -1.4M301.3 98.3h2.2M302.4 97.2v2.2M301.7 97.6l1.4 1.4M301.7 99.0l1.4 -1.4M302.6 104.8h2.2M303.7 103.7v2.2M303.0 104.1l1.4 1.4M303.0 105.5l1.4 -1.4M303.8 102.3h2.2M304.9 101.2v2.2M304.2 101.6l1.4 1.4M304.2 103.0l1.4 -1.4M305.0 93.6h2.2M306.1 92.5v2.2M305.4 92.9l1.4 1.4M305.4 94.3l1.4 -1.4M306.2 100.6h2.2M307.3 99.5v2.2M306.6 99.9l1.4 1.4M306.6 101.3l1.4 -1.4M307.4 95.4h2.2M308.5 94.3v2.2M307.8 94.7l1.4 1.4M307.8 96.1l1.4 -1.4M308.6 96.9h2.2M309.7 95.8v2.2M309.0 96.2l1.4 1.4M309.0 97.6l1.4 -1.4M309.8 99.8h2.2M310.9 98.7v2.2M310.2 99.1l1.4 1.4M310.2 100.5l1.4 -1.4M311.0 97.1h2.2M312.1 96.0v2.2M311.4 96.4l1.4 1.4M311.4 97.8l1.4 -1.4M312.2 97.3h2.2M313.3 96.2v2.2M312.6 96.6l1.4 1.4M312.6 98.0l1.4 -1.4M313.4 96.9h2.2M314.5 95.8v2.2M313.8 96.2l1.4 1.4M313.8 97.6l1.4 -1.4M314.6 92.3h2.2M315.7 91.2v2.2M315.0 91.6l1.4 1.4M315.0 93.0l1.4 -1.4M315.9 92.2h2.2M317.0 91.1v2.2M316.3 91.5l1.4 1.4M316.3 92.9l1.4 -1.4M317.1 96.1h2.2M318.2 95.0v2.2M317.5 95.4l1.4 1.4M317.5 96.8l1.4 -1.4M318.3 96.9h2.2M319.4 95.8v2.2M318.7 96.2l1.4 1.4M318.7 97.6l1.4 -1.4M319.5 92.4h2.2M320.6 91.3v2.2M319.9 91.7l1.4 1.4M319.9 93.1l1.4 -1.4M320.7 93.4h2.2M321.8 92.3v2.2M321.1 92.7l1.4 1.4M321.1 94.1l1.4 -1.4M321.9 89.1h2.2M323.0 88.0v2.2M322.3 88.4l1.4 1.4M322.3 89.8l1.4 -1.4M323.1 82.9h2.2M324.2 81.8v2.2M323.5 82.2l1.4 1.4M323.5 83.6l1.4 -1.4M324.3 89.0h2.2M325.4 87.9v2.2M324.7 88.3l1.4 1.4M324.7 89.7l1.4 -1.4M325.5 91.8h2.2M326.6 90.7v2.2M325.9 91.1l1.4 1.4M325.9 92.5l1.4 -1.4M326.7 92.0h2.2M327.8 90.9v2.2M327.1 91.3l1.4 1.4M327.1 92.7l1.4 -1.4M327.9 94.2h2.2M329.0 93.1v2.2M328.3 93.5l1.4 1.4M328.3 94.9l1.4 -1.4M329.1 94.1h2.2M330.2 93.0v2.2M329.5 93.4l1.4 1.4M329.5 94.8l1.4 -1.4M330.4 94.1h2.2M331.5 93.0v2.2M330.8 93.4l1.4 1.4M330.8 94.8l1.4 -1.4M331.6 91.5h2.2M332.7 90.4v2.2M332.0 90.8l1.4 1.4M332.0 92.2l1.4 -1.4M332.8 91.4h2.2M333.9 90.3v2.2M333.2 90.7l1.4 1.4M333.2 92.1l1.4 -1.4M334.0 86.6h2.2M335.1 85.5v2.2M334.4 85.9l1.4 1.4M334.4 87.3l1.4 -1.4M335.2 90.6h2.2M336.3 89.5v2.2M335.6 89.9l1.4 1.4M335.6 91.3l1.4 -1.4M336.4 89.6h2.2M337.5 88.5v2.2M336.8 88.9l1.4 1.4M336.8 90.3l1.4 -1.4M337.6 93.2h2.2M338.7 92.1v2.2M338.0 92.5l1.4 1.4M338.0 93.9l1.4 -1.4M338.8 81.9h2.2M339.9 80.8v2.2M339.2 81.2l1.4 1.4M339.2 82.6l1.4 -1.4M340.0 85.9h2.2M341.1 84.8v2.2M340.4 85.2l1.4 1.4M340.4 86.6l1.4 -1.4M341.2 80.6h2.2M342.3 79.5v2.2M341.6 79.9l1.4 1.4M341.6 81.3l1.4 -1.4M342.4 84.2h2.2M343.5 83.1v2.2M342.8 83.5l1.4 1.4M342.8 84.9l1.4 -1.4M343.7 81.1h2.2M344.8 80.0v2.2M344.1 80.4l1.4 1.4M344.1 81.8l1.4 -1.4M344.9 87.7h2.2M346.0 86.6v2.2M345.3 87.0l1.4 1.4M345.3 88.4l1.4 -1.4M346.1 83.6h2.2M347.2 82.5v2.2M346.5 82.9l1.4 1.4M346.5 84.3l1.4 -1.4M347.3 75.3h2.2M348.4 74.2v2.2M347.7 74.6l1.4 1.4M347.7 76.0l1.4 -1.4M348.5 90.8h2.2M349.6 89.7v2.2M348.9 90.1l1.4 1.4M348.9 91.5l1.4 -1.4M349.7 80.8h2.2M350.8 79.7v2.2M350.1 80.1l1.4 1.4M350.1 81.5l1.4 -1.4M350.9 78.4h2.2M352.0 77.3v2.2M351.3 77.7l1.4 1.4M351.3 79.1l1.4 -1.4M352.1 83.3h2.2M353.2 82.2v2.2M352.5 82.6l1.4 1.4M352.5 84.0l1.4 -1.4M353.3 81.6h2.2M354.4 80.5v2.2M353.7 80.9l1.4 1.4M353.7 82.3l1.4 -1.4M354.5 79.1h2.2M355.6 78.0v2.2M354.9 78.4l1.4 1.4M354.9 79.8l1.4 -1.4M355.7 87.0h2.2M356.8 85.9v2.2M356.1 86.3l1.4 1.4M356.1 87.7l1.4 -1.4M357.0 82.2h2.2M358.1 81.1v2.2M357.4 81.5l1.4 1.4M357.4 82.9l1.4 -1.4M358.2 87.4h2.2M359.3 86.3v2.2M358.6 86.7l1.4 1.4M358.6 88.1l1.4 -1.4M359.4 86.3h2.2M360.5 85.2v2.2M359.8 85.6l1.4 1.4M359.8 87.0l1.4 -1.4M360.6 85.8h2.2M361.7 84.7v2.2M361.0 85.1l1.4 1.4M361.0 86.5l1.4 -1.4M361.8 83.5h2.2M362.9 82.4v2.2M362.2 82.8l1.4 1.4M362.2 84.2l1.4 -1.4M363.0 82.0h2.2M364.1 80.9v2.2M363.4 81.3l1.4 1.4M363.4 82.7l1.4 -1.4M364.2 80.3h2.2M365.3 79.2v2.2M364.6 79.6l1.4 1.4M364.6 81.0l1.4 -1.4M365.4 88.4h2.2M366.5 87.3v2.2M365.8 87.7l1.4 1.4M365.8 89.1l1.4 -1.4M366.6 73.0h2.2M367.7 71.9v2.2M367.0 72.3l1.4 1.4M367.0 73.7l1.4 -1.4M367.8 76.4h2.2M368.9 75.3v2.2M368.2 75.7l1.4 1.4M368.2 77.1l1.4 -1.4M369.0 78.1h2.2M370.1 77.0v2.2M369.4 77.4l1.4 1.4M369.4 78.8l1.4 -1.4M370.3 82.7h2.2M371.4 81.6v2.2M370.7 82.0l1.4 1.4M370.7 83.4l1.4 -1.4M371.5 81.3h2.2M372.6 80.2v2.2M371.9 80.6l1.4 1.4M371.9 82.0l1.4 -1.4M372.7 78.1h2.2M373.8 77.0v2.2M373.1 77.4l1.4 1.4M373.1 78.8l1.4 -1.4M373.9 78.5h2.2M375.0 77.4v2.2M374.3 77.8l1.4 1.4M374.3 79.2l1.4 -1.4M375.1 88.0h2.2M376.2 86.9v2.2M375.5 87.3l1.4 1.4M375.5 88.7l1.4 -1.4M376.3 76.4h2.2M377.4 75.3v2.2M376.7 75.7l1.4 1.4M376.7 77.1l1.4 -1.4M377.5 65.9h2.2M378.6 64.8v2.2M377.9 65.2l1.4 1.4M377.9 66.6l1.4 -1.4M378.7 88.2h2.2M379.8 87.1v2.2M379.1 87.5l1.4 1.4M379.1 88.9l1.4 -1.4M379.9 74.5h2.2M381.0 73.4v2.2M380.3 73.8l1.4 1.4M380.3 75.2l1.4 -1.4M381.1 77.2h2.2M382.2 76.1v2.2M381.5 76.5l1.4 1.4M381.5 77.9l1.4 -1.4M382.3 79.3h2.2M383.4 78.2v2.2M382.7 78.6l1.4 1.4M382.7 80.0l1.4 -1.4M383.6 71.9h2.2M384.7 70.8v2.2M384.0 71.2l1.4 1.4M384.0 72.6l1.4 -1.4M384.8 84.1h2.2M385.9 83.0v2.2M385.2 83.4l1.4 1.4M385.2 84.8l1.4 -1.4M386.0 77.3h2.2M387.1 76.2v2.2M386.4 76.6l1.4 1.4M386.4 78.0l1.4 -1.4M387.2 70.7h2.2M388.3 69.6v2.2M387.6 70.0l1.4 1.4M387.6 71.4l1.4 -1.4M388.4 78.6h2.2M389.5 77.5v2.2M388.8 77.9l1.4 1.4M388.8 79.3l1.4 -1.4M389.6 79.5h2.2M390.7 78.4v2.2M390.0 78.8l1.4 1.4M390.0 80.2l1.4 -1.4M390.8 76.6h2.2M391.9 75.5v2.2M391.2 75.9l1.4 1.4M391.2 77.3l1.4 -1.4M392.0 79.2h2.2M393.1 78.1v2.2M392.4 78.5l1.4 1.4M392.4 79.9l1.4 -1.4M393.2 69.0h2.2M394.3 67.9v2.2M393.6 68.3l1.4 1.4M393.6 69.7l1.4 -1.4M394.4 81.2h2.2M395.5 80.1v2.2M394.8 80.5l1.4 1.4M394.8 81.9l1.4 -1.4M395.6 71.9h2.2M396.7 70.8v2.2M396.0 71.2l1.4 1.4M396.0 72.6l1.4 -1.4M396.9 82.6h2.2M398.0 81.5v2.2M397.3 81.9l1.4 1.4M397.3 83.3l1.4 -1.4M398.1 72.5h2.2M399.2 71.4v2.2M398.5 71.8l1.4 1.4M398.5 73.2l1.4 -1.4M399.3 76.3h2.2M400.4 75.2v2.2M399.7 75.6l1.4 1.4M399.7 77.0l1.4 -1.4M400.5 89.0h2.2M401.6 87.9v2.2M400.9 88.3l1.4 1.4M400.9 89.7l1.4 -1.4M401.7 75.4h2.2M402.8 74.3v2.2M402.1 74.7l1.4 1.4M402.1 76.1l1.4 -1.4M402.9 80.7h2.2M404.0 79.6v2.2M403.3 80.0l1.4 1.4M403.3 81.4l1.4 -1.4M404.1 77.3h2.2M405.2 76.2v2.2M404.5 76.6l1.4 1.4M404.5 78.0l1.4 -1.4M405.3 66.6h2.2M406.4 65.5v2.2M405.7 65.9l1.4 1.4M405.7 67.3l1.4 -1.4M406.5 80.5h2.2M407.6 79.4v2.2M406.9 79.8l1.4 1.4M406.9 81.2l1.4 -1.4M407.7 80.0h2.2M408.8 78.9v2.2M408.1 79.3l1.4 1.4M408.1 80.7l1.4 -1.4M408.9 66.4h2.2M410.0 65.3v2.2M409.3 65.7l1.4 1.4M409.3 67.1l1.4 -1.4M410.2 73.3h2.2M411.3 72.2v2.2M410.6 72.6l1.4 1.4M410.6 74.0l1.4 -1.4M411.4 65.4h2.2M412.5 64.3v2.2M411.8 64.7l1.4 1.4M411.8 66.1l1.4 -1.4M412.6 71.8h2.2M413.7 70.7v2.2M413.0 71.1l1.4 1.4M413.0 72.5l1.4 -1.4M413.8 78.2h2.2M414.9 77.1v2.2M414.2 77.5l1.4 1.4M414.2 78.9l1.4 -1.4M415.0 73.6h2.2M416.1 72.5v2.2M415.4 72.9l1.4 1.4M415.4 74.3l1.4 -1.4M416.2 66.2h2.2M417.3 65.1v2.2M416.6 65.5l1.4 1.4M416.6 66.9l1.4 -1.4M417.4 67.6h2.2M418.5 66.5v2.2M417.8 66.9l1.4 1.4M417.8 68.3l1.4 -1.4M418.6 72.6h2.2M419.7 71.5v2.2M419.0 71.9l1.4 1.4M419.0 73.3l1.4 -1.4M419.8 72.2h2.2M420.9 71.1v2.2M420.2 71.5l1.4 1.4M420.2 72.9l1.4 -1.4M421.0 72.9h2.2M422.1 71.8v2.2M421.4 72.2l1.4 1.4M421.4 73.6l1.4 -1.4M422.2 75.4h2.2M423.3 74.3v2.2M422.6 74.7l1.4 1.4M422.6 76.1l1.4 -1.4M423.5 60.9h2.2M424.6 59.8v2.2M423.9 60.2l1.4 1.4M423.9 61.6l1.4 -1.4M424.7 71.7h2.2M425.8 70.6v2.2M425.1 71.0l1.4 1.4M425.1 72.4l1.4 -1.4M425.9 78.1h2.2M427.0 77.0v2.2M426.3 77.4l1.4 1.4M426.3 78.8l1.4 -1.4M427.1 74.2h2.2M428.2 73.1v2.2M427.5 73.5l1.4 1.4M427.5 74.9l1.4 -1.4M428.3 67.0h2.2M429.4 65.9v2.2M428.7 66.3l1.4 1.4M428.7 67.7l1.4 -1.4M429.5 67.3h2.2M430.6 66.2v2.2M429.9 66.6l1.4 1.4M429.9 68.0l1.4 -1.4M430.7 71.7h2.2M431.8 70.6v2.2M431.1 71.0l1.4 1.4M431.1 72.4l1.4 -1.4M431.9 74.6h2.2M433.0 73.5v2.2M432.3 73.9l1.4 1.4M432.3 75.3l1.4 -1.4M433.1 70.4h2.2M434.2 69.3v2.2M433.5 69.7l1.4 1.4M433.5 71.1l1.4 -1.4M434.3 80.3h2.2M435.4 79.2v2.2M434.7 79.6l1.4 1.4M434.7 81.0l1.4 -1.4M435.5 78.0h2.2M436.6 76.9v2.2M435.9 77.3l1.4 1.4M435.9 78.7l1.4 -1.4M436.8 65.3h2.2M437.9 64.2v2.2M437.2 64.6l1.4 1.4M437.2 66.0l1.4 -1.4M438.0 72.8h2.2M439.1 71.7v2.2M438.4 72.1l1.4 1.4M438.4 73.5l1.4 -1.4M439.2 67.5h2.2M440.3 66.4v2.2M439.6 66.8l1.4 1.4M439.6 68.2l1.4 -1.4M440.4 62.2h2.2M441.5 61.1v2.2M440.8 61.5l1.4 1.4M440.8 62.9l1.4 -1.4M441.6 65.4h2.2M442.7 64.3v2.2M442.0 64.7l1.4 1.4M442.0 66.1l1.4 -1.4M442.8 69.1h2.2M443.9 68.0v2.2M443.2 68.4l1.4 1.4M443.2 69.8l1.4 -1.4M444.0 56.0h2.2M445.1 54.9v2.2M444.4 55.3l1.4 1.4M444.4 56.7l1.4 -1.4M445.2 64.8h2.2M446.3 63.7v2.2M445.6 64.1l1.4 1.4M445.6 65.5l1.4 -1.4M446.4 71.0h2.2M447.5 69.9v2.2M446.8 70.3l1.4 1.4M446.8 71.7l1.4 -1.4M447.6 64.1h2.2M448.7 63.0v2.2M448.0 63.4l1.4 1.4M448.0 64.8l1.4 -1.4M448.8 65.9h2.2M449.9 64.8v2.2M449.2 65.2l1.4 1.4M449.2 66.6l1.4 -1.4M450.0 73.7h2.2M451.1 72.6v2.2M450.4 73.0l1.4 1.4M450.4 74.4l1.4 -1.4M451.3 67.7h2.2M452.4 66.6v2.2M451.7 67.0l1.4 1.4M451.7 68.4l1.4 -1.4M452.5 69.0h2.2M453.6 67.9v2.2M452.9 68.3l1.4 1.4M452.9 69.7l1.4 -1.4M453.7 80.3h2.2M454.8 79.2v2.2M454.1 79.6l1.4 1.4M454.1 81.0l1.4 -1.4M454.9 68.8h2.2M456.0 67.7v2.2M455.3 68.1l1.4 1.4M455.3 69.5l1.4 -1.4M456.1 69.4h2.2M457.2 68.3v2.2M456.5 68.7l1.4 1.4M456.5 70.1l1.4 -1.4M457.3 70.2h2.2M458.4 69.1v2.2M457.7 69.5l1.4 1.4M457.7 70.9l1.4 -1.4M458.5 77.9h2.2M459.6 76.8v2.2M458.9 77.2l1.4 1.4M458.9 78.6l1.4 -1.4M459.7 69.4h2.2M460.8 68.3v2.2M460.1 68.7l1.4 1.4M460.1 70.1l1.4 -1.4M460.9 67.2h2.2M462.0 66.1v2.2M461.3 66.5l1.4 1.4M461.3 67.9l1.4 -1.4M462.1 66.1h2.2M463.2 65.0v2.2M462.5 65.4l1.4 1.4M462.5 66.8l1.4 -1.4M463.3 74.1h2.2M464.4 73.0v2.2M463.7 73.4l1.4 1.4M463.7 74.8l1.4 -1.4M464.6 62.3h2.2M465.7 61.2v2.2M465.0 61.6l1.4 1.4M465.0 63.0l1.4 -1.4M465.8 74.4h2.2M466.9 73.3v2.2M466.2 73.7l1.4 1.4M466.2 75.1l1.4 -1.4M467.0 67.7h2.2M468.1 66.6v2.2M467.4 67.0l1.4 1.4M467.4 68.4l1.4 -1.4M468.2 57.4h2.2M469.3 56.3v2.2M468.6 56.7l1.4 1.4M468.6 58.1l1.4 -1.4M469.4 70.6h2.2M470.5 69.5v2.2M469.8 69.9l1.4 1.4M469.8 71.3l1.4 -1.4" stroke="#0000ff" stroke-width="0.65" fill="none"/>
<polyline points="82.2,126.9 83.0,139.1 83.3,152.9 83.6,163.3 83.9,171.6 84.2,178.7 84.5,184.9 84.8,190.5 85.1,195.7 85.4,200.6 85.7,205.1 86.0,209.4 86.3,213.4 86.6,217.2 86.9,220.8 87.2,224.2 87.5,227.4 87.8,230.5 88.1,233.4 88.4,236.2 88.8,238.9 89.1,241.5 89.4,244.0 89.7,246.4 90.0,248.7 90.3,250.9 90.6,253.1 90.9,255.1 91.2,257.1 91.5,259.1 91.8,260.9 92.1,262.7 92.4,264.5 92.7,266.1 93.0,267.7 93.3,269.3 93.6,270.8 93.9,272.2 94.2,273.5 94.5,274.9 94.8,276.1 95.1,277.3 95.4,278.4 95.7,279.5 96.0,280.6 96.3,281.6 96.6,282.5 96.9,283.4 97.2,284.2 97.5,285.0 97.8,285.8 98.1,286.5 98.4,287.1 98.7,287.7 99.0,288.3 99.3,288.8 99.6,289.3 99.9,289.8 100.2,290.2 100.5,290.6 100.8,291.0 101.1,291.3 101.4,291.6 101.7,291.8 102.1,292.1 102.4,292.3 102.7,292.4 103.0,292.6 103.3,292.7 103.6,292.8 103.9,292.8 104.2,292.9 104.5,292.9 104.8,292.9 105.1,292.9 105.4,292.8 105.7,292.7 106.0,292.7 106.3,292.5 106.6,292.4 106.9,292.3 107.2,292.1 107.5,291.9 107.8,291.8 108.1,291.5 108.4,291.3 108.7,291.1 109.0,290.8 109.3,290.6 109.6,290.3 109.9,290.0 110.2,289.7 110.5,289.4 110.8,289.1 111.1,288.8 111.4,288.4 111.7,288.1 112.0,287.7 112.3,287.3 112.6,286.9 112.9,286.6 113.2,286.2 113.5,285.8 113.8,285.3 114.1,284.9 114.4,284.5 114.7,284.1 115.0,283.6 115.3,283.2 115.7,282.7 116.0,282.3 116.3,281.8 116.6,281.3 116.9,280.9 117.2,280.4 117.5,279.9 117.8,279.4 118.1,278.9 118.4,278.4 118.7,277.9 119.0,277.4 119.3,276.9 119.6,276.4 119.9,275.9 120.2,275.4 120.5,274.9 120.8,274.3 121.1,273.8 121.4,273.3 121.7,272.7 122.0,272.2 122.3,271.7 122.6,271.1 122.9,270.6 123.2,270.0 123.5,269.5 123.8,268.9 124.1,268.4 124.4,267.8 124.7,267.3 125.0,266.7 125.3,266.2 125.6,265.6 125.9,265.1 126.2,264.5 126.5,263.9 126.8,263.4 127.1,262.8 127.4,262.3 127.7,261.7 128.0,261.1 128.3,260.6 128.6,260.0 129.0,259.4 129.3,258.9 129.6,258.3 129.9,257.7 130.2,257.2 130.5,256.6 130.8,256.0 131.1,255.5 131.4,254.9 131.7,254.3 132.0,253.8 132.3,253.2 132.6,252.6 132.9,252.1 133.2,251.5 133.5,250.9 133.8,250.4 134.1,249.8 134.4,249.2 134.7,248.7 135.0,248.1 135.3,247.5 135.6,247.0 135.9,246.4 136.2,245.8 136.5,245.3 136.8,244.7 137.1,244.2" stroke="#0000ff" stroke-width="2.1" fill="none" stroke-linejoin="round"/>
<polyline points="136.2,245.8 136.5,245.3 136.8,244.7 137.1,244.2 137.4,243.6 137.7,243.0 138.0,242.5 138.3,241.9 138.6,241.4 138.9,240.8 139.2,240.3 139.5,239.7 139.8,239.1 140.1,238.6 140.4,238.0 140.7,237.5 141.0,236.9 141.3,236.4 141.6,235.9 141.9,235.3 142.2,234.8 142.6,234.2 142.9,233.7 143.2,233.1 143.5,232.6 143.8,232.1 144.1,231.5 144.4,231.0 144.7,230.5 145.0,229.9 145.3,229.4 145.6,228.9 145.9,228.3 146.2,227.8 146.5,227.3 146.8,226.7 147.1,226.2 147.4,225.7 147.7,225.2 148.0,224.7 148.3,224.1 148.6,223.6 148.9,223.1 149.2,222.6 149.5,222.1 149.8,221.6 150.1,221.1 150.4,220.6 150.7,220.1 151.0,219.5 151.3,219.0 151.6,218.5 151.9,218.0 152.2,217.5 152.5,217.0 152.8,216.6 153.1,216.1 153.4,215.6 153.7,215.1 154.0,214.6 154.3,214.1 154.6,213.6 154.9,213.1 155.2,212.6 155.5,212.2 155.9,211.7 156.2,211.2 156.5,210.7 156.8,210.2 157.1,209.8 157.4,209.3 157.7,208.8 158.0,208.4 158.3,207.9 158.6,207.4 158.9,207.0 159.2,206.5 159.5,206.0 159.8,205.6 160.1,205.1 160.4,204.7 160.7,204.2 161.0,203.8 161.3,203.3 161.6,202.8 161.9,202.4 162.2,202.0 162.5,201.5 162.8,201.1 163.1,200.6 163.4,200.2 163.7,199.7 164.0,199.3 164.3,198.9 164.6,198.4 164.9,198.0 165.2,197.6 165.5,197.1 165.8,196.7 166.1,196.3 166.4,195.8 166.7,195.4 167.0,195.0 167.3,194.6" stroke="#0000ff" stroke-width="2.2" fill="none" stroke-linejoin="round"/>
<polyline points="166.4,195.8 166.7,195.4 167.0,195.0 167.3,194.6 167.6,194.2 167.9,193.7 168.2,193.3 168.5,192.9 168.8,192.5 169.2,192.1 169.5,191.7 169.8,191.3 170.1,190.9 170.4,190.4 170.7,190.0 171.0,189.6 171.3,189.2 171.6,188.8 171.9,188.4 172.2,188.0 172.5,187.6 172.8,187.2 173.1,186.9 173.4,186.5 173.7,186.1 174.0,185.7 174.3,185.3 174.6,184.9 174.9,184.5 175.2,184.1 175.5,183.8 175.8,183.4 176.1,183.0 176.4,182.6 176.7,182.2 177.0,181.9 177.3,181.5 177.6,181.1 177.9,180.8 178.2,180.4 178.5,180.0 178.8,179.7 179.1,179.3 179.4,178.9 179.7,178.6 180.0,178.2 180.3,177.8 180.6,177.5 180.9,177.1 181.2,176.8 181.5,176.4 181.8,176.1 182.1,175.7 182.4,175.4 182.8,175.0 183.1,174.7 183.4,174.3 183.7,174.0 184.0,173.6 184.3,173.3 184.6,172.9 184.9,172.6 185.2,172.3 185.5,171.9 185.8,171.6 186.1,171.2 186.4,170.9 186.7,170.6 187.0,170.3 187.3,169.9 187.6,169.6 187.9,169.3 188.2,168.9 188.5,168.6 188.8,168.3 189.1,168.0 189.4,167.6 189.7,167.3 190.0,167.0 190.3,166.7 190.6,166.4 190.9,166.0 191.2,165.7 191.5,165.4 191.8,165.1 192.1,164.8 192.4,164.5 192.7,164.2 193.0,163.9 193.3,163.6 193.6,163.3 193.9,163.0 194.2,162.6 194.5,162.3 194.8,162.0 195.1,161.7 195.4,161.4 195.7,161.1 196.1,160.8 196.4,160.6 196.7,160.3 197.0,160.0 197.3,159.7 197.6,159.4 197.9,159.1 198.2,158.8 198.5,158.5 198.8,158.2 199.1,157.9 199.4,157.7 199.7,157.4 200.0,157.1 200.3,156.8 200.6,156.5 200.9,156.2 201.2,156.0 201.5,155.7 201.8,155.4 202.1,155.1 202.4,154.9 202.7,154.6 203.0,154.3 203.3,154.0 203.6,153.8 203.9,153.5 204.2,153.2 204.5,153.0 204.8,152.7 205.1,152.4 205.4,152.2 205.7,151.9 206.0,151.6 206.3,151.4 206.6,151.1 206.9,150.8 207.2,150.6 207.5,150.3 207.8,150.1 208.1,149.8 208.4,149.6 208.7,149.3 209.0,149.0 209.3,148.8 209.7,148.5 210.0,148.3 210.3,148.0 210.6,147.8 210.9,147.5 211.2,147.3 211.5,147.0 211.8,146.8 212.1,146.5 212.4,146.3 212.7,146.1 213.0,145.8 213.3,145.6 213.6,145.3 213.9,145.1 214.2,144.8 214.5,144.6 214.8,144.4 215.1,144.1 215.4,143.9 215.7,143.7 216.0,143.4 216.3,143.2 216.6,143.0 216.9,142.7 217.2,142.5 217.5,142.3 217.8,142.0 218.1,141.8 218.4,141.6 218.7,141.3 219.0,141.1 219.3,140.9 219.6,140.7 219.9,140.4 220.2,140.2 220.5,140.0 220.8,139.8 221.1,139.6 221.4,139.3 221.7,139.1 222.0,138.9 222.3,138.7 222.6,138.5 223.0,138.2 223.3,138.0 223.6,137.8 223.9,137.6 224.2,137.4 224.5,137.2 224.8,137.0 225.1,136.7 225.4,136.5 225.7,136.3 226.0,136.1 226.3,135.9 226.6,135.7 226.9,135.5 227.2,135.3 227.5,135.1 227.8,134.9 228.1,134.7 228.4,134.5 228.7,134.2 229.0,134.0 229.3,133.8 229.6,133.6 229.9,133.4 230.2,133.2 230.5,133.0 230.8,132.8 231.1,132.6 231.4,132.4 231.7,132.2 232.0,132.0 232.3,131.9 232.6,131.7 232.9,131.5 233.2,131.3 233.5,131.1 233.8,130.9 234.1,130.7 234.4,130.5 234.7,130.3 235.0,130.1 235.3,129.9 235.6,129.7 235.9,129.5 236.2,129.4 236.6,129.2 236.9,129.0 237.2,128.8 237.5,128.6 237.8,128.4 238.1,128.2 238.4,128.1 238.7,127.9 239.0,127.7 239.3,127.5 239.6,127.3 239.9,127.1 240.2,127.0 240.5,126.8 240.8,126.6 241.1,126.4 241.4,126.3 241.7,126.1 242.0,125.9 242.3,125.7 242.6,125.5 242.9,125.4 243.2,125.2 243.5,125.0 243.8,124.8 244.1,124.7 244.4,124.5 244.7,124.3 245.0,124.2 245.3,124.0 245.6,123.8 245.9,123.6 246.2,123.5 246.5,123.3 246.8,123.1 247.1,123.0 247.4,122.8 247.7,122.6 248.0,122.5 248.3,122.3 248.6,122.1 248.9,122.0 249.2,121.8 249.5,121.6 249.9,121.5 250.2,121.3 250.5,121.2 250.8,121.0 251.1,120.8 251.4,120.7 251.7,120.5 252.0,120.3 252.3,120.2 252.6,120.0 252.9,119.9 253.2,119.7 253.5,119.6 253.8,119.4 254.1,119.2 254.4,119.1 254.7,118.9 255.0,118.8 255.3,118.6 255.6,118.5 255.9,118.3 256.2,118.2 256.5,118.0 256.8,117.9 257.1,117.7 257.4,117.5 257.7,117.4 258.0,117.2 258.3,117.1 258.6,116.9 258.9,116.8 259.2,116.6 259.5,116.5 259.8,116.4 260.1,116.2 260.4,116.1 260.7,115.9 261.0,115.8 261.3,115.6 261.6,115.5 261.9,115.3 262.2,115.2 262.5,115.0 262.8,114.9 263.2,114.7 263.5,114.6 263.8,114.5 264.1,114.3 264.4,114.2 264.7,114.0 265.0,113.9 265.3,113.8 265.6,113.6 265.9,113.5 266.2,113.3 266.5,113.2 266.8,113.1 267.1,112.9 267.4,112.8 267.7,112.6 268.0,112.5 268.3,112.4 268.6,112.2 268.9,112.1 269.2,112.0 269.5,111.8 269.8,111.7 270.1,111.6 270.4,111.4 270.7,111.3 271.0,111.2 271.3,111.0 271.6,110.9 271.9,110.8 272.2,110.6 272.5,110.5 272.8,110.4 273.1,110.2 273.4,110.1 273.7,110.0 274.0,109.8 274.3,109.7 274.6,109.6 274.9,109.5 275.2,109.3 275.5,109.2 275.8,109.1 276.1,108.9 276.4,108.8 276.8,108.7 277.1,108.6 277.4,108.4 277.7,108.3 278.0,108.2 278.3,108.1 278.6,107.9 278.9,107.8 279.2,107.7 279.5,107.6 279.8,107.4 280.1,107.3 280.4,107.2 280.7,107.1 281.0,107.0 281.3,106.8 281.6,106.7 281.9,106.6 282.2,106.5 282.5,106.4 282.8,106.2 283.1,106.1 283.4,106.0 283.7,105.9 284.0,105.8 284.3,105.6 284.6,105.5 284.9,105.4 285.2,105.3 285.5,105.2 285.8,105.1 286.1,104.9 286.4,104.8 286.7,104.7 287.0,104.6 287.3,104.5 287.6,104.4 287.9,104.2 288.2,104.1 288.5,104.0 288.8,103.9 289.1,103.8 289.4,103.7 289.7,103.6 290.1,103.5 290.4,103.3 290.7,103.2 291.0,103.1 291.3,103.0 291.6,102.9 291.9,102.8 292.2,102.7 292.5,102.6 292.8,102.5 293.1,102.3 293.4,102.2 293.7,102.1 294.0,102.0 294.3,101.9 294.6,101.8 294.9,101.7 295.2,101.6 295.5,101.5 295.8,101.4 296.1,101.3 296.4,101.2 296.7,101.0 297.0,100.9 297.3,100.8 297.6,100.7 297.9,100.6 298.2,100.5 298.5,100.4 298.8,100.3 299.1,100.2 299.4,100.1 299.7,100.0 300.0,99.9 300.3,99.8 300.6,99.7 300.9,99.6 301.2,99.5 301.5,99.4 301.8,99.3 302.1,99.2 302.4,99.1 302.7,99.0 303.0,98.9 303.3,98.8 303.7,98.7 304.0,98.6 304.3,98.5 304.6,98.4 304.9,98.3 305.2,98.2 305.5,98.1 305.8,98.0 306.1,97.9 306.4,97.8 306.7,97.7 307.0,97.6 307.3,97.5 307.6,97.4 307.9,97.3 308.2,97.2 308.5,97.1 308.8,97.0 309.1,96.9 309.4,96.8 309.7,96.7 310.0,96.6 310.3,96.5 310.6,96.4 310.9,96.3 311.2,96.2 311.5,96.1 311.8,96.1 312.1,96.0 312.4,95.9 312.7,95.8 313.0,95.7 313.3,95.6 313.6,95.5 313.9,95.4 314.2,95.3 314.5,95.2 314.8,95.1 315.1,95.0 315.4,94.9 315.7,94.9 316.0,94.8 316.3,94.7 316.6,94.6 317.0,94.5 317.3,94.4 317.6,94.3 317.9,94.2 318.2,94.1 318.5,94.0 318.8,94.0 319.1,93.9 319.4,93.8 319.7,93.7 320.0,93.6 320.3,93.5 320.6,93.4 320.9,93.3 321.2,93.2 321.5,93.2 321.8,93.1 322.1,93.0 322.4,92.9 322.7,92.8 323.0,92.7 323.3,92.6 323.6,92.6 323.9,92.5 324.2,92.4 324.5,92.3 324.8,92.2 325.1,92.1 325.4,92.0 325.7,92.0 326.0,91.9 326.3,91.8 326.6,91.7 326.9,91.6 327.2,91.5 327.5,91.5 327.8,91.4 328.1,91.3 328.4,91.2 328.7,91.1 329.0,91.0 329.3,91.0 329.6,90.9 329.9,90.8 330.2,90.7 330.6,90.6 330.9,90.6 331.2,90.5 331.5,90.4 331.8,90.3 332.1,90.2 332.4,90.2 332.7,90.1 333.0,90.0 333.3,89.9 333.6,89.8 333.9,89.8 334.2,89.7 334.5,89.6 334.8,89.5 335.1,89.4 335.4,89.4 335.7,89.3 336.0,89.2 336.3,89.1 336.6,89.0 336.9,89.0 337.2,88.9 337.5,88.8 337.8,88.7 338.1,88.7 338.4,88.6 338.7,88.5 339.0,88.4 339.3,88.4 339.6,88.3 339.9,88.2 340.2,88.1 340.5,88.0 340.8,88.0 341.1,87.9 341.4,87.8 341.7,87.7 342.0,87.7 342.3,87.6 342.6,87.5 342.9,87.4 343.2,87.4 343.5,87.3 343.9,87.2 344.2,87.2 344.5,87.1 344.8,87.0 345.1,86.9 345.4,86.9 345.7,86.8 346.0,86.7 346.3,86.6 346.6,86.6 346.9,86.5 347.2,86.4 347.5,86.4 347.8,86.3 348.1,86.2 348.4,86.1 348.7,86.1 349.0,86.0 349.3,85.9 349.6,85.9 349.9,85.8 350.2,85.7 350.5,85.6 350.8,85.6 351.1,85.5 351.4,85.4 351.7,85.4 352.0,85.3 352.3,85.2 352.6,85.2 352.9,85.1 353.2,85.0 353.5,84.9 353.8,84.9 354.1,84.8 354.4,84.7 354.7,84.7 355.0,84.6 355.3,84.5 355.6,84.5 355.9,84.4 356.2,84.3 356.5,84.3 356.8,84.2 357.1,84.1 357.5,84.1 357.8,84.0 358.1,83.9 358.4,83.9 358.7,83.8 359.0,83.7 359.3,83.7 359.6,83.6 359.9,83.5 360.2,83.5 360.5,83.4 360.8,83.3 361.1,83.3 361.4,83.2 361.7,83.1 362.0,83.1 362.3,83.0 362.6,82.9 362.9,82.9 363.2,82.8 363.5,82.7 363.8,82.7 364.1,82.6 364.4,82.6 364.7,82.5 365.0,82.4 365.3,82.4 365.6,82.3 365.9,82.2 366.2,82.2 366.5,82.1 366.8,82.0 367.1,82.0 367.4,81.9 367.7,81.9 368.0,81.8 368.3,81.7 368.6,81.7 368.9,81.6 369.2,81.5 369.5,81.5 369.8,81.4 370.1,81.4 370.4,81.3 370.8,81.2 371.1,81.2 371.4,81.1 371.7,81.0 372.0,81.0 372.3,80.9 372.6,80.9 372.9,80.8 373.2,80.7 373.5,80.7 373.8,80.6 374.1,80.6 374.4,80.5 374.7,80.4 375.0,80.4 375.3,80.3 375.6,80.3 375.9,80.2 376.2,80.1 376.5,80.1 376.8,80.0 377.1,80.0 377.4,79.9 377.7,79.9 378.0,79.8 378.3,79.7 378.6,79.7 378.9,79.6 379.2,79.6 379.5,79.5 379.8,79.4 380.1,79.4 380.4,79.3 380.7,79.3 381.0,79.2 381.3,79.2 381.6,79.1 381.9,79.0 382.2,79.0 382.5,78.9 382.8,78.9 383.1,78.8 383.4,78.8 383.7,78.7 384.1,78.6 384.4,78.6 384.7,78.5 385.0,78.5 385.3,78.4 385.6,78.4 385.9,78.3 386.2,78.2 386.5,78.2 386.8,78.1 387.1,78.1 387.4,78.0 387.7,78.0 388.0,77.9 388.3,77.9 388.6,77.8 388.9,77.8 389.2,77.7 389.5,77.6 389.8,77.6 390.1,77.5 390.4,77.5 390.7,77.4 391.0,77.4 391.3,77.3 391.6,77.3 391.9,77.2 392.2,77.2 392.5,77.1 392.8,77.0 393.1,77.0 393.4,76.9 393.7,76.9 394.0,76.8 394.3,76.8 394.6,76.7 394.9,76.7 395.2,76.6 395.5,76.6 395.8,76.5 396.1,76.5 396.4,76.4 396.7,76.4 397.0,76.3 397.3,76.3 397.7,76.2 398.0,76.2 398.3,76.1 398.6,76.1 398.9,76.0 399.2,75.9 399.5,75.9 399.8,75.8 400.1,75.8 400.4,75.7 400.7,75.7 401.0,75.6 401.3,75.6 401.6,75.5 401.9,75.5 402.2,75.4 402.5,75.4 402.8,75.3 403.1,75.3 403.4,75.2 403.7,75.2 404.0,75.1 404.3,75.1 404.6,75.0 404.9,75.0 405.2,74.9 405.5,74.9 405.8,74.8 406.1,74.8 406.4,74.7 406.7,74.7 407.0,74.6 407.3,74.6 407.6,74.5 407.9,74.5 408.2,74.4 408.5,74.4 408.8,74.3 409.1,74.3 409.4,74.3 409.7,74.2 410.0,74.2 410.3,74.1 410.6,74.1 411.0,74.0 411.3,74.0 411.6,73.9 411.9,73.9 412.2,73.8 412.5,73.8 412.8,73.7 413.1,73.7 413.4,73.6 413.7,73.6 414.0,73.5 414.3,73.5 414.6,73.4 414.9,73.4 415.2,73.3 415.5,73.3 415.8,73.3 416.1,73.2 416.4,73.2 416.7,73.1 417.0,73.1 417.3,73.0 417.6,73.0 417.9,72.9 418.2,72.9 418.5,72.8 418.8,72.8 419.1,72.7 419.4,72.7 419.7,72.7 420.0,72.6 420.3,72.6 420.6,72.5 420.9,72.5 421.2,72.4 421.5,72.4 421.8,72.3 422.1,72.3 422.4,72.2 422.7,72.2 423.0,72.2 423.3,72.1 423.6,72.1 423.9,72.0 424.2,72.0 424.6,71.9 424.9,71.9 425.2,71.8 425.5,71.8 425.8,71.8 426.1,71.7 426.4,71.7 426.7,71.6 427.0,71.6 427.3,71.5 427.6,71.5 427.9,71.4 428.2,71.4 428.5,71.4 428.8,71.3 429.1,71.3 429.4,71.2 429.7,71.2 430.0,71.1 430.3,71.1 430.6,71.1 430.9,71.0 431.2,71.0 431.5,70.9 431.8,70.9 432.1,70.8 432.4,70.8 432.7,70.8 433.0,70.7 433.3,70.7 433.6,70.6 433.9,70.6 434.2,70.6 434.5,70.5 434.8,70.5 435.1,70.4 435.4,70.4 435.7,70.3 436.0,70.3 436.3,70.3 436.6,70.2 436.9,70.2 437.2,70.1 437.5,70.1 437.9,70.1 438.2,70.0 438.5,70.0 438.8,69.9 439.1,69.9 439.4,69.8 439.7,69.8 440.0,69.8 440.3,69.7 440.6,69.7 440.9,69.6 441.2,69.6 441.5,69.6 441.8,69.5 442.1,69.5 442.4,69.4 442.7,69.4 443.0,69.4 443.3,69.3 443.6,69.3 443.9,69.2 444.2,69.2 444.5,69.2 444.8,69.1 445.1,69.1 445.4,69.0 445.7,69.0 446.0,69.0 446.3,68.9 446.6,68.9 446.9,68.8 447.2,68.8 447.5,68.8 447.8,68.7 448.1,68.7 448.4,68.6 448.7,68.6 449.0,68.6 449.3,68.5 449.6,68.5 449.9,68.5 450.2,68.4 450.5,68.4 450.8,68.3 451.1,68.3 451.5,68.3 451.8,68.2 452.1,68.2 452.4,68.1 452.7,68.1 453.0,68.1 453.3,68.0 453.6,68.0 453.9,68.0 454.2,67.9 454.5,67.9 454.8,67.8 455.1,67.8 455.4,67.8 455.7,67.7 456.0,67.7 456.3,67.7 456.6,67.6 456.9,67.6 457.2,67.5 457.5,67.5 457.8,67.5 458.1,67.4 458.4,67.4 458.7,67.4 459.0,67.3 459.3,67.3 459.6,67.2 459.9,67.2 460.2,67.2 460.5,67.1 460.8,67.1 461.1,67.1 461.4,67.0 461.7,67.0 462.0,67.0 462.3,66.9 462.6,66.9 462.9,66.8 463.2,66.8 463.5,66.8 463.8,66.7 464.1,66.7 464.4,66.7 464.8,66.6 465.1,66.6 465.4,66.6 465.7,66.5 466.0,66.5 466.3,66.4 466.6,66.4 466.9,66.4 467.2,66.3 467.5,66.3 467.8,66.3 468.1,66.2 468.4,66.2 468.7,66.2 469.0,66.1 469.3,66.1 469.6,66.1 469.9,66.0 470.2,66.0 470.5,66.0" stroke="#0000ff" stroke-width="2.3" fill="none" stroke-linejoin="round"/>
<polyline points="99.9,1024.7 100.5,992.3 101.1,962.0 101.7,933.4 102.4,906.6 103.0,881.2 103.6,857.3 104.2,834.7 104.8,813.3 105.4,792.9 106.0,773.6 106.6,755.2 107.2,737.7 107.8,721.0 108.4,705.1 109.0,689.9 109.6,675.3 110.2,661.4 110.8,648.0 111.4,635.2 112.0,622.9 112.6,611.1 113.2,599.7 113.8,588.8 114.4,578.3 115.0,568.1 115.7,558.3 116.3,548.9 116.9,539.8 117.5,531.0 118.1,522.5 118.7,514.2 119.3,506.3 119.9,498.6 120.5,491.1 121.1,483.8 121.7,476.8 122.3,470.0 122.9,463.4 123.5,457.0 124.1,450.7 124.7,444.7 125.3,438.8 125.9,433.0 126.5,427.4 127.1,422.0 127.7,416.7 128.3,411.6 129.0,406.6 129.6,401.7 130.2,396.9 130.8,392.3 131.4,387.7 132.0,383.3 132.6,379.0 133.2,374.7 133.8,370.6 134.4,366.6 135.0,362.7 135.6,358.8 136.2,355.0 136.8,351.4 137.4,347.8 138.0,344.2 138.6,340.8 139.2,337.4 139.8,334.1 140.4,330.9 141.0,327.7 141.6,324.6 142.3,321.6 142.9,318.6 143.5,315.7 144.1,312.8 144.7,310.0 145.3,307.2 145.9,304.5 146.5,301.8 147.1,299.2 147.7,296.7 148.3,294.2 148.9,291.7 149.5,289.3 150.1,286.9 150.7,284.6 151.3,282.3 151.9,280.0 152.5,277.8 153.1,275.6 153.7,273.4 154.3,271.3 154.9,269.3 155.5,267.2 156.2,265.2 156.8,263.2 157.4,261.3 158.0,259.4 158.6,257.5 159.2,255.6 159.8,253.8 160.4,252.0 161.0,250.2 161.6,248.5 162.2,246.8 162.8,245.1 163.4,243.4 164.0,241.8 164.6,240.2 165.2,238.6 165.8,237.0 166.4,235.5 167.0,233.9 167.6,232.4 168.2,230.9 168.8,229.5 169.5,228.0 170.1,226.6 170.7,225.2 171.3,223.8 171.9,222.5 172.5,221.1 173.1,219.8 173.7,218.5 174.3,217.2 174.9,215.9 175.5,214.6 176.1,213.4 176.7,212.2 177.3,210.9 177.9,209.7 178.5,208.6 179.1,207.4 179.7,206.2 180.3,205.1 180.9,204.0 181.5,202.8 182.1,201.7 182.8,200.7 183.4,199.6 184.0,198.5 184.6,197.5 185.2,196.4 185.8,195.4 186.4,194.4 187.0,193.4 187.6,192.4 188.2,191.4 188.8,190.5 189.4,189.5 190.0,188.6 190.6,187.6 191.2,186.7 191.8,185.8 192.4,184.9 193.0,184.0 193.6,183.1 194.2,182.2 194.8,181.4 195.4,180.5 196.1,179.7 196.7,178.8 197.3,178.0 197.9,177.2 198.5,176.3 199.1,175.5 199.7,174.7 200.3,174.0 200.9,173.2 201.5,172.4 202.1,171.6 202.7,170.9 203.3,170.1 203.9,169.4 204.5,168.7 205.1,167.9 205.7,167.2 206.3,166.5 206.9,165.8 207.5,165.1 208.1,164.4 208.7,163.7 209.3,163.0 210.0,162.4 210.6,161.7 211.2,161.0 211.8,160.4 212.4,159.7 213.0,159.1 213.6,158.4 214.2,157.8 214.8,157.2 215.4,156.6 216.0,155.9 216.6,155.3 217.2,154.7 217.8,154.1 218.4,153.5 219.0,153.0 219.6,152.4 220.2,151.8 220.8,151.2 221.4,150.7 222.0,150.1 222.6,149.5 223.3,149.0 223.9,148.4 224.5,147.9 225.1,147.4 225.7,146.8 226.3,146.3 226.9,145.8 227.5,145.2 228.1,144.7 228.7,144.2 229.3,143.7 229.9,143.2 230.5,142.7 231.1,142.2 231.7,141.7 232.3,141.2 232.9,140.7 233.5,140.3 234.1,139.8 234.7,139.3 235.3,138.8 235.9,138.4 236.6,137.9 237.2,137.5 237.8,137.0 238.4,136.6 239.0,136.1 239.6,135.7 240.2,135.2 240.8,134.8 241.4,134.4 242.0,133.9 242.6,133.5 243.2,133.1 243.8,132.6 244.4,132.2 245.0,131.8 245.6,131.4 246.2,131.0 246.8,130.6 247.4,130.2 248.0,129.8 248.6,129.4 249.2,129.0 249.9,128.6 250.5,128.2 251.1,127.8 251.7,127.4 252.3,127.1 252.9,126.7 253.5,126.3 254.1,125.9 254.7,125.6 255.3,125.2 255.9,124.8 256.5,124.5 257.1,124.1 257.7,123.8 258.3,123.4 258.9,123.1 259.5,122.7 260.1,122.4 260.7,122.0 261.3,121.7 261.9,121.3 262.5,121.0 263.2,120.7 263.8,120.3 264.4,120.0 265.0,119.7 265.6,119.3 266.2,119.0 266.8,118.7 267.4,118.4 268.0,118.0 268.6,117.7 269.2,117.4 269.8,117.1 270.4,116.8 271.0,116.5 271.6,116.2 272.2,115.9 272.8,115.6 273.4,115.3 274.0,115.0 274.6,114.7 275.2,114.4 275.8,114.1 276.4,113.8 277.1,113.5 277.7,113.2 278.3,112.9 278.9,112.6 279.5,112.4 280.1,112.1 280.7,111.8 281.3,111.5 281.9,111.2 282.5,111.0 283.1,110.7 283.7,110.4 284.3,110.2 284.9,109.9 285.5,109.6 286.1,109.4 286.7,109.1 287.3,108.8 287.9,108.6 288.5,108.3 289.1,108.1 289.7,107.8 290.4,107.6 291.0,107.3 291.6,107.0 292.2,106.8 292.8,106.6 293.4,106.3 294.0,106.1 294.6,105.8 295.2,105.6 295.8,105.3 296.4,105.1 297.0,104.9 297.6,104.6 298.2,104.4 298.8,104.1 299.4,103.9 300.0,103.7 300.6,103.4 301.2,103.2 301.8,103.0 302.4,102.8 303.0,102.5 303.7,102.3 304.3,102.1 304.9,101.9 305.5,101.6 306.1,101.4 306.7,101.2 307.3,101.0 307.9,100.8 308.5,100.6 309.1,100.3 309.7,100.1 310.3,99.9 310.9,99.7 311.5,99.5 312.1,99.3 312.7,99.1 313.3,98.9 313.9,98.7 314.5,98.5 315.1,98.3 315.7,98.1 316.3,97.9 317.0,97.7 317.6,97.5 318.2,97.3 318.8,97.1 319.4,96.9 320.0,96.7 320.6,96.5 321.2,96.3 321.8,96.1 322.4,95.9 323.0,95.7 323.6,95.5 324.2,95.4 324.8,95.2 325.4,95.0 326.0,94.8 326.6,94.6 327.2,94.4 327.8,94.2 328.4,94.1 329.0,93.9 329.6,93.7 330.2,93.5 330.9,93.3 331.5,93.2 332.1,93.0 332.7,92.8 333.3,92.6 333.9,92.5 334.5,92.3 335.1,92.1 335.7,92.0 336.3,91.8 336.9,91.6 337.5,91.4 338.1,91.3 338.7,91.1 339.3,90.9 339.9,90.8 340.5,90.6 341.1,90.4 341.7,90.3 342.3,90.1 342.9,90.0 343.5,89.8 344.2,89.6 344.8,89.5 345.4,89.3 346.0,89.2 346.6,89.0 347.2,88.8 347.8,88.7 348.4,88.5 349.0,88.4 349.6,88.2 350.2,88.1 350.8,87.9 351.4,87.8 352.0,87.6 352.6,87.5 353.2,87.3 353.8,87.2 354.4,87.0 355.0,86.9 355.6,86.7 356.2,86.6 356.8,86.4 357.5,86.3 358.1,86.1 358.7,86.0 359.3,85.9 359.9,85.7 360.5,85.6 361.1,85.4 361.7,85.3 362.3,85.1 362.9,85.0 363.5,84.9 364.1,84.7 364.7,84.6 365.3,84.5 365.9,84.3 366.5,84.2 367.1,84.0 367.7,83.9 368.3,83.8 368.9,83.6 369.5,83.5 370.1,83.4 370.8,83.2 371.4,83.1 372.0,83.0 372.6,82.9 373.2,82.7 373.8,82.6 374.4,82.5 375.0,82.3 375.6,82.2 376.2,82.1 376.8,82.0 377.4,81.8 378.0,81.7 378.6,81.6 379.2,81.5 379.8,81.3 380.4,81.2 381.0,81.1 381.6,81.0 382.2,80.8 382.8,80.7 383.4,80.6 384.1,80.5 384.7,80.4 385.3,80.2 385.9,80.1 386.5,80.0 387.1,79.9 387.7,79.8 388.3,79.6 388.9,79.5 389.5,79.4 390.1,79.3 390.7,79.2 391.3,79.1 391.9,78.9 392.5,78.8 393.1,78.7 393.7,78.6 394.3,78.5 394.9,78.4 395.5,78.3 396.1,78.2 396.7,78.0 397.3,77.9 398.0,77.8 398.6,77.7 399.2,77.6 399.8,77.5 400.4,77.4 401.0,77.3 401.6,77.2 402.2,77.1 402.8,77.0 403.4,76.8 404.0,76.7 404.6,76.6 405.2,76.5 405.8,76.4 406.4,76.3 407.0,76.2 407.6,76.1 408.2,76.0 408.8,75.9 409.4,75.8 410.0,75.7 410.6,75.6 411.3,75.5 411.9,75.4 412.5,75.3 413.1,75.2 413.7,75.1 414.3,75.0 414.9,74.9 415.5,74.8 416.1,74.7 416.7,74.6 417.3,74.5 417.9,74.4 418.5,74.3 419.1,74.2 419.7,74.1 420.3,74.0 420.9,73.9 421.5,73.8 422.1,73.7 422.7,73.6 423.3,73.5 423.9,73.4 424.6,73.4 425.2,73.3 425.8,73.2 426.4,73.1 427.0,73.0 427.6,72.9 428.2,72.8 428.8,72.7 429.4,72.6 430.0,72.5 430.6,72.4 431.2,72.3 431.8,72.2 432.4,72.2 433.0,72.1 433.6,72.0 434.2,71.9 434.8,71.8 435.4,71.7 436.0,71.6 436.6,71.5 437.2,71.5 437.9,71.4 438.5,71.3 439.1,71.2 439.7,71.1 440.3,71.0 440.9,70.9 441.5,70.8 442.1,70.8 442.7,70.7 443.3,70.6 443.9,70.5 444.5,70.4 445.1,70.3 445.7,70.3 446.3,70.2 446.9,70.1 447.5,70.0 448.1,69.9 448.7,69.8 449.3,69.8 449.9,69.7 450.5,69.6 451.1,69.5 451.8,69.4 452.4,69.4 453.0,69.3 453.6,69.2 454.2,69.1 454.8,69.0 455.4,69.0 456.0,68.9 456.6,68.8 457.2,68.7 457.8,68.7 458.4,68.6 459.0,68.5 459.6,68.4 460.2,68.3 460.8,68.3 461.4,68.2 462.0,68.1 462.6,68.0 463.2,68.0 463.8,67.9 464.4,67.8 465.1,67.7 465.7,67.7 466.3,67.6 466.9,67.5 467.5,67.4 468.1,67.4 468.7,67.3 469.3,67.2 469.9,67.1 470.5,67.1" stroke="#0000ff" stroke-width="0.5" fill="none"/>
</g>
<g font-family="Liberation Sans, sans-serif" font-size="16" fill="#000"><text x="84.0" y="319.7" text-anchor="middle">0</text><text x="144.5" y="319.7" text-anchor="middle">10</text><text x="204.9" y="319.7" text-anchor="middle">20</text><text x="265.4" y="319.7" text-anchor="middle">30</text><text x="325.9" y="319.7" text-anchor="middle">40</text><text x="386.3" y="319.7" text-anchor="middle">50</text><text x="446.8" y="319.7" text-anchor="middle">60</text><text x="72.0" y="25.9" text-anchor="end">0</text><text x="72.0" y="55.9" text-anchor="end">-0.2</text><text x="72.0" y="85.8" text-anchor="end">-0.4</text><text x="72.0" y="115.7" text-anchor="end">-0.6</text><text x="72.0" y="145.6" text-anchor="end">-0.8</text><text x="72.0" y="175.5" text-anchor="end">-1</text><text x="72.0" y="205.4" text-anchor="end">-1.2</text><text x="72.0" y="235.3" text-anchor="end">-1.4</text><text x="72.0" y="265.2" text-anchor="end">-1.6</text><text x="72.0" y="295.2" text-anchor="end">-1.8</text></g>
<path d="M304.9 204.5L301.3 212.9L304.9 221.3M317.1 204.5L320.8 212.9L317.1 221.3M328 211.3H339M328 214.7H339" stroke="#3a3a3a" stroke-width="0.8" fill="none"/>
<g font-family="Liberation Serif, serif" font-size="16.4" fill="#3a3a3a" text-anchor="middle"><text x="311" y="217.8" font-style="italic" font-size="16">n</text><text x="348.2" y="217.8">0</text><text x="355.2" y="217.8">.</text><text x="361.9" y="217.8">7</text><text x="369.7" y="217.8">2</text></g>
<path d="M392 207.6H434.5" stroke="#ff0000" stroke-width="1.45"/><circle cx="413.2" cy="207.6" r="1.5" fill="#ff0000"/>
<path d="M304.9 225.1L301.3 233.5L304.9 241.9M317.1 225.1L320.8 233.5L317.1 241.9M328 231.9H339M328 235.3H339" stroke="#3a3a3a" stroke-width="0.8" fill="none"/>
<g font-family="Liberation Serif, serif" font-size="16.4" fill="#3a3a3a" text-anchor="middle"><text x="311" y="238.4" font-style="italic" font-size="16">n</text><text x="348.2" y="238.4">1</text><text x="355.2" y="238.4">.</text><text x="361.9" y="238.4">2</text><text x="369.7" y="238.4">9</text></g>
<path d="M392 228.5H434.5" stroke="#00ff00" stroke-width="1.45"/><circle cx="413.2" cy="228.5" r="1.5" fill="#00ff00"/>
<path d="M304.9 245.7L301.3 254.1L304.9 262.5M317.1 245.7L320.8 254.1L317.1 262.5M328 252.5H339M328 255.9H339" stroke="#3a3a3a" stroke-width="0.8" fill="none"/>
<g font-family="Liberation Serif, serif" font-size="16.4" fill="#3a3a3a" text-anchor="middle"><text x="311" y="259.0" font-style="italic" font-size="16">n</text><text x="348.2" y="259.0">1</text><text x="355.2" y="259.0">.</text><text x="361.9" y="259.0">5</text><text x="369.7" y="259.0">3</text></g>
<path d="M392 249.4H434.5" stroke="#0000ff" stroke-width="1.45"/><circle cx="413.2" cy="249.4" r="1.5" fill="#0000ff"/>
<g font-family="Liberation Serif, serif" font-style="italic" fill="#3a3a3a" text-anchor="middle"><text x="277.25" y="344.3" font-size="16" textLength="10.5" lengthAdjust="spacingAndGlyphs">ω</text><text x="286.0" y="346.9" font-size="11.2" textLength="6.6" lengthAdjust="spacingAndGlyphs">n</text></g>
<g transform="translate(22.8,203.6) rotate(-90)" font-family="Liberation Serif, serif" fill="#3a3a3a" font-size="16" text-anchor="middle"><text x="3.2" y="0">I</text><text x="13.2" y="0">m</text><text x="31.2" y="0">Σ</text><text x="42.1" y="3.4" font-size="11.2" font-style="italic">ii</text><text x="49.7" y="0">(</text><text x="54.8" y="0" font-style="italic">i</text><text x="62.65" y="0" font-style="italic" textLength="10.3" lengthAdjust="spacingAndGlyphs">ω</text><text x="71.4" y="3.4" font-size="11.2" font-style="italic" textLength="6.5" lengthAdjust="spacingAndGlyphs">n</text><text x="78.65" y="0">)</text></g>
</svg></body></html>
